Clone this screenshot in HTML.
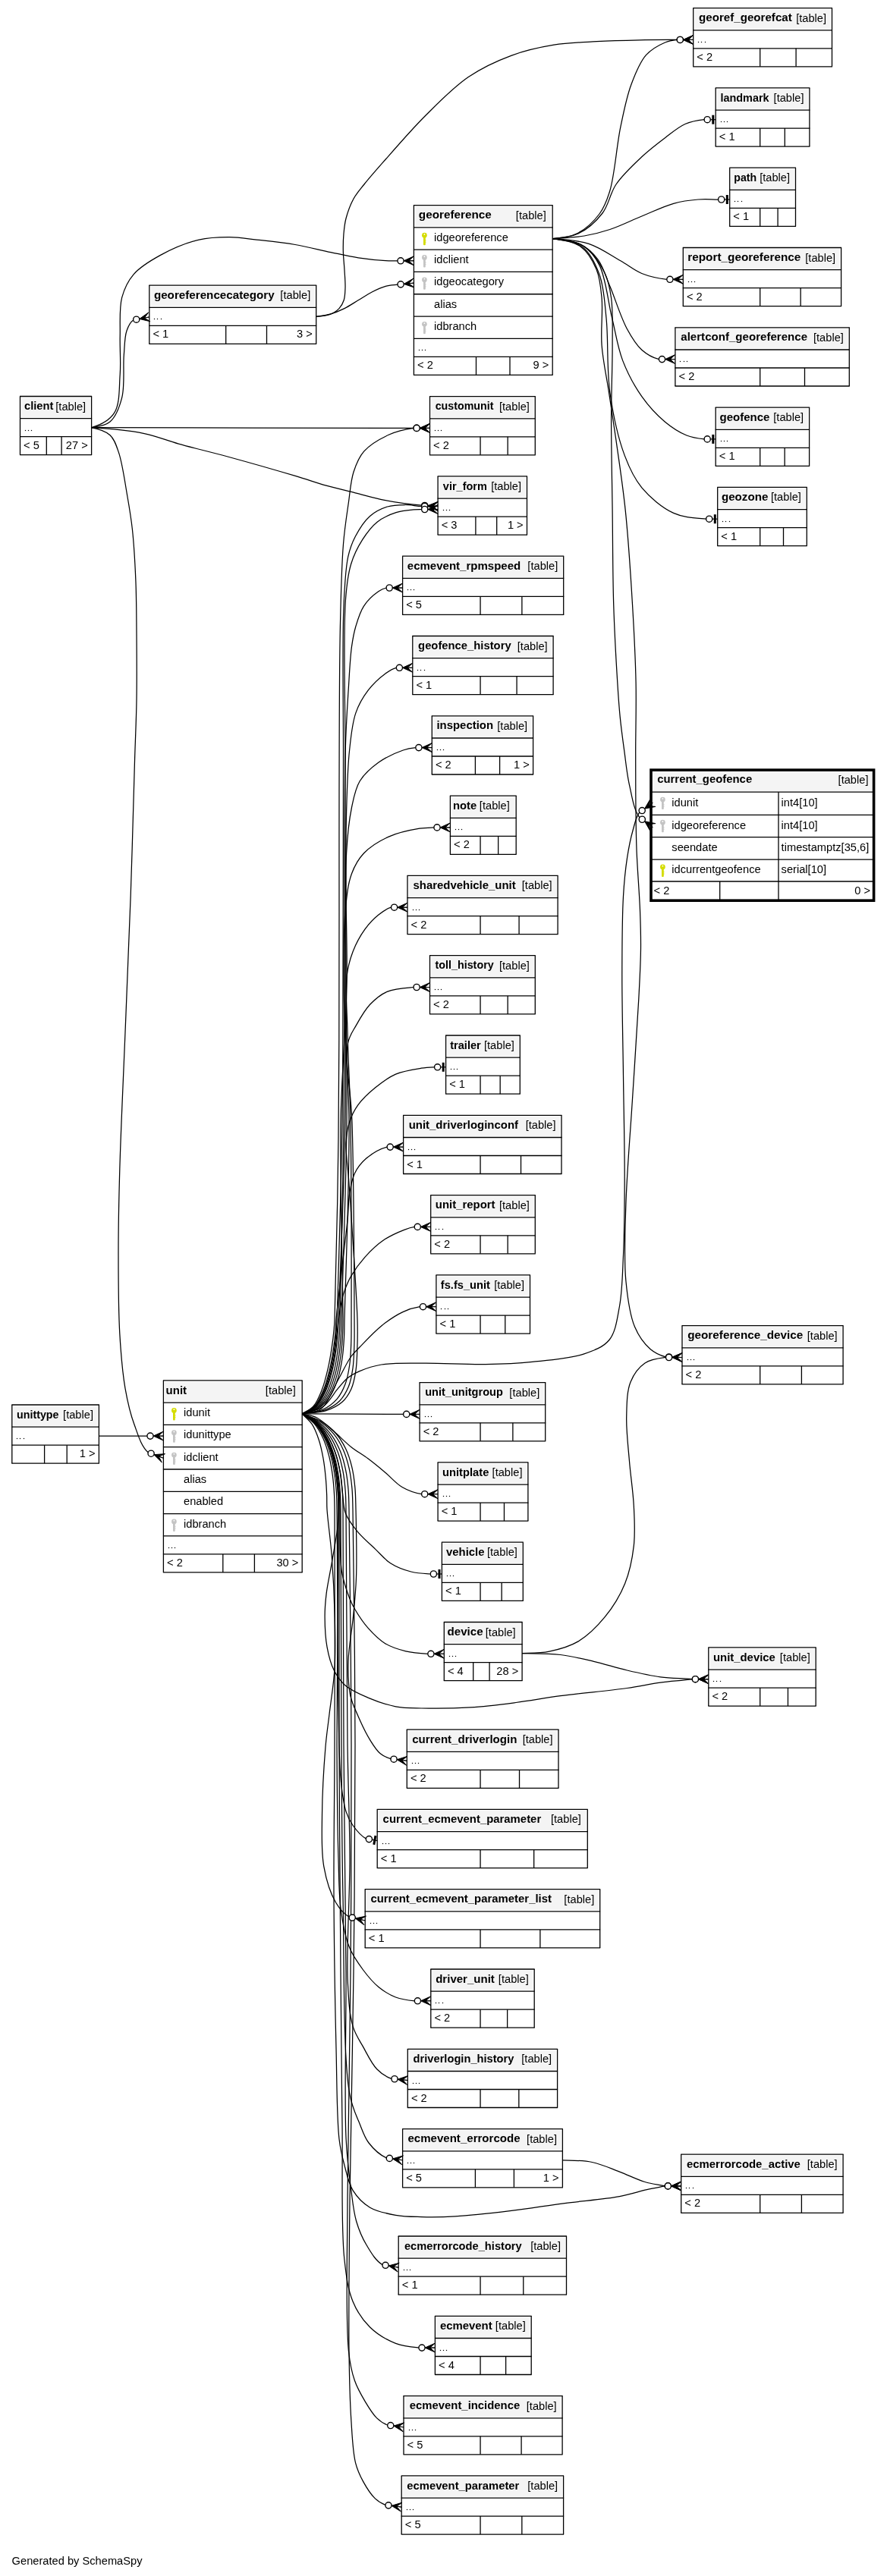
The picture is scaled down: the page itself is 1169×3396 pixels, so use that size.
<!DOCTYPE html>
<html><head><meta charset="utf-8"><style>
html,body{margin:0;padding:0;background:#fff;}
svg{display:block;will-change:transform;}
text{font-family:"Liberation Sans",sans-serif;font-size:14.67px;fill:#000;}
text.b{font-weight:bold;}
</style></head><body>
<svg width="1169" height="3396" viewBox="0 0 1169 3396">
<rect width="1169" height="3396" fill="#fff"/>
<rect x="915.50" y="12.45" width="179.20" height="25.60" fill="#f4f4f4"/>
<g stroke="#000">
<line x1="913.20" y1="10.65" x2="1097.00" y2="10.65" stroke-width="1.3"/>
<line x1="913.20" y1="39.85" x2="1097.00" y2="39.85" stroke-width="1.3"/>
<line x1="913.20" y1="63.85" x2="1097.00" y2="63.85" stroke-width="1.3"/>
<line x1="913.20" y1="87.85" x2="1097.00" y2="87.85" stroke-width="1.3"/>
<line x1="913.70" y1="10.65" x2="913.70" y2="87.85" stroke-width="1.3"/>
<line x1="1096.50" y1="10.65" x2="1096.50" y2="87.85" stroke-width="1.3"/>
<line x1="1001.70" y1="63.85" x2="1001.70" y2="87.85" stroke-width="1.3"/>
<line x1="1049.10" y1="63.85" x2="1049.10" y2="87.85" stroke-width="1.3"/>
</g>
<text x="921.10" y="28.25" class="b" textLength="122.66" lengthAdjust="spacingAndGlyphs">georef_georefcat</text>
<text x="1089.10" y="28.65" text-anchor="end">[table]</text>
<rect x="919.90" y="54.90" width="1.2" height="1.2" fill="#000"/>
<rect x="923.90" y="54.90" width="1.2" height="1.2" fill="#000"/>
<rect x="928.90" y="54.90" width="1.2" height="1.2" fill="#000"/>
<text x="918.30" y="79.85">&lt; 2</text>
<rect x="945.00" y="117.70" width="120.10" height="25.60" fill="#f4f4f4"/>
<g stroke="#000">
<line x1="942.70" y1="115.90" x2="1067.40" y2="115.90" stroke-width="1.3"/>
<line x1="942.70" y1="145.10" x2="1067.40" y2="145.10" stroke-width="1.3"/>
<line x1="942.70" y1="169.10" x2="1067.40" y2="169.10" stroke-width="1.3"/>
<line x1="942.70" y1="193.10" x2="1067.40" y2="193.10" stroke-width="1.3"/>
<line x1="943.20" y1="115.90" x2="943.20" y2="193.10" stroke-width="1.3"/>
<line x1="1066.90" y1="115.90" x2="1066.90" y2="193.10" stroke-width="1.3"/>
<line x1="1001.70" y1="169.10" x2="1001.70" y2="193.10" stroke-width="1.3"/>
<line x1="1034.30" y1="169.10" x2="1034.30" y2="193.10" stroke-width="1.3"/>
</g>
<text x="949.40" y="133.50" class="b" textLength="64.22" lengthAdjust="spacingAndGlyphs">landmark</text>
<text x="1059.50" y="133.90" text-anchor="end">[table]</text>
<rect x="949.90" y="159.90" width="1.2" height="1.2" fill="#000"/>
<rect x="953.90" y="159.90" width="1.2" height="1.2" fill="#000"/>
<rect x="957.90" y="159.90" width="1.2" height="1.2" fill="#000"/>
<text x="947.80" y="185.10">&lt; 1</text>
<rect x="963.50" y="223.00" width="83.20" height="25.60" fill="#f4f4f4"/>
<g stroke="#000">
<line x1="961.20" y1="221.20" x2="1049.00" y2="221.20" stroke-width="1.3"/>
<line x1="961.20" y1="250.40" x2="1049.00" y2="250.40" stroke-width="1.3"/>
<line x1="961.20" y1="274.40" x2="1049.00" y2="274.40" stroke-width="1.3"/>
<line x1="961.20" y1="298.40" x2="1049.00" y2="298.40" stroke-width="1.3"/>
<line x1="961.70" y1="221.20" x2="961.70" y2="298.40" stroke-width="1.3"/>
<line x1="1048.50" y1="221.20" x2="1048.50" y2="298.40" stroke-width="1.3"/>
<line x1="1001.70" y1="274.40" x2="1001.70" y2="298.40" stroke-width="1.3"/>
<line x1="1025.10" y1="274.40" x2="1025.10" y2="298.40" stroke-width="1.3"/>
</g>
<text x="967.30" y="238.80" class="b" textLength="29.87" lengthAdjust="spacingAndGlyphs">path</text>
<text x="1041.10" y="239.20" text-anchor="end">[table]</text>
<rect x="967.90" y="264.90" width="1.2" height="1.2" fill="#000"/>
<rect x="971.90" y="264.90" width="1.2" height="1.2" fill="#000"/>
<rect x="976.90" y="264.90" width="1.2" height="1.2" fill="#000"/>
<text x="966.30" y="290.40">&lt; 1</text>
<rect x="902.10" y="328.30" width="204.70" height="25.60" fill="#f4f4f4"/>
<g stroke="#000">
<line x1="899.80" y1="326.50" x2="1109.10" y2="326.50" stroke-width="1.3"/>
<line x1="899.80" y1="355.70" x2="1109.10" y2="355.70" stroke-width="1.3"/>
<line x1="899.80" y1="379.70" x2="1109.10" y2="379.70" stroke-width="1.3"/>
<line x1="899.80" y1="403.70" x2="1109.10" y2="403.70" stroke-width="1.3"/>
<line x1="900.30" y1="326.50" x2="900.30" y2="403.70" stroke-width="1.3"/>
<line x1="1108.60" y1="326.50" x2="1108.60" y2="403.70" stroke-width="1.3"/>
<line x1="1001.70" y1="379.70" x2="1001.70" y2="403.70" stroke-width="1.3"/>
<line x1="1055.15" y1="379.70" x2="1055.15" y2="403.70" stroke-width="1.3"/>
</g>
<text x="906.20" y="344.10" class="b" textLength="149.18" lengthAdjust="spacingAndGlyphs">report_georeference</text>
<text x="1101.20" y="344.50" text-anchor="end">[table]</text>
<rect x="906.90" y="370.90" width="1.2" height="1.2" fill="#000"/>
<rect x="910.90" y="370.90" width="1.2" height="1.2" fill="#000"/>
<rect x="914.90" y="370.90" width="1.2" height="1.2" fill="#000"/>
<text x="904.90" y="395.70">&lt; 2</text>
<rect x="891.70" y="433.60" width="225.80" height="25.60" fill="#f4f4f4"/>
<g stroke="#000">
<line x1="889.40" y1="431.80" x2="1119.80" y2="431.80" stroke-width="1.3"/>
<line x1="889.40" y1="461.00" x2="1119.80" y2="461.00" stroke-width="1.3"/>
<line x1="889.40" y1="485.00" x2="1119.80" y2="485.00" stroke-width="1.3"/>
<line x1="889.40" y1="509.00" x2="1119.80" y2="509.00" stroke-width="1.3"/>
<line x1="889.90" y1="431.80" x2="889.90" y2="509.00" stroke-width="1.3"/>
<line x1="1119.30" y1="431.80" x2="1119.30" y2="509.00" stroke-width="1.3"/>
<line x1="1001.70" y1="485.00" x2="1001.70" y2="509.00" stroke-width="1.3"/>
<line x1="1060.50" y1="485.00" x2="1060.50" y2="509.00" stroke-width="1.3"/>
</g>
<text x="897.30" y="449.40" class="b" textLength="166.76" lengthAdjust="spacingAndGlyphs">alertconf_georeference</text>
<text x="1111.90" y="449.80" text-anchor="end">[table]</text>
<rect x="895.90" y="475.90" width="1.2" height="1.2" fill="#000"/>
<rect x="900.90" y="475.90" width="1.2" height="1.2" fill="#000"/>
<rect x="904.90" y="475.90" width="1.2" height="1.2" fill="#000"/>
<text x="894.50" y="501.00">&lt; 2</text>
<rect x="945.00" y="538.90" width="119.80" height="25.60" fill="#f4f4f4"/>
<g stroke="#000">
<line x1="942.70" y1="537.10" x2="1067.10" y2="537.10" stroke-width="1.3"/>
<line x1="942.70" y1="566.30" x2="1067.10" y2="566.30" stroke-width="1.3"/>
<line x1="942.70" y1="590.30" x2="1067.10" y2="590.30" stroke-width="1.3"/>
<line x1="942.70" y1="614.30" x2="1067.10" y2="614.30" stroke-width="1.3"/>
<line x1="943.20" y1="537.10" x2="943.20" y2="614.30" stroke-width="1.3"/>
<line x1="1066.60" y1="537.10" x2="1066.60" y2="614.30" stroke-width="1.3"/>
<line x1="1001.70" y1="590.30" x2="1001.70" y2="614.30" stroke-width="1.3"/>
<line x1="1034.15" y1="590.30" x2="1034.15" y2="614.30" stroke-width="1.3"/>
</g>
<text x="948.50" y="554.70" class="b" textLength="65.98" lengthAdjust="spacingAndGlyphs">geofence</text>
<text x="1059.20" y="555.10" text-anchor="end">[table]</text>
<rect x="949.90" y="580.90" width="1.2" height="1.2" fill="#000"/>
<rect x="953.90" y="580.90" width="1.2" height="1.2" fill="#000"/>
<rect x="957.90" y="580.90" width="1.2" height="1.2" fill="#000"/>
<text x="947.80" y="606.30">&lt; 1</text>
<rect x="947.50" y="644.20" width="114.00" height="25.60" fill="#f4f4f4"/>
<g stroke="#000">
<line x1="945.20" y1="642.40" x2="1063.80" y2="642.40" stroke-width="1.3"/>
<line x1="945.20" y1="671.60" x2="1063.80" y2="671.60" stroke-width="1.3"/>
<line x1="945.20" y1="695.60" x2="1063.80" y2="695.60" stroke-width="1.3"/>
<line x1="945.20" y1="719.60" x2="1063.80" y2="719.60" stroke-width="1.3"/>
<line x1="945.70" y1="642.40" x2="945.70" y2="719.60" stroke-width="1.3"/>
<line x1="1063.30" y1="642.40" x2="1063.30" y2="719.60" stroke-width="1.3"/>
<line x1="1001.70" y1="695.60" x2="1001.70" y2="719.60" stroke-width="1.3"/>
<line x1="1032.50" y1="695.60" x2="1032.50" y2="719.60" stroke-width="1.3"/>
</g>
<text x="950.90" y="660.00" class="b" textLength="61.43" lengthAdjust="spacingAndGlyphs">geozone</text>
<text x="1055.90" y="660.40" text-anchor="end">[table]</text>
<rect x="951.90" y="686.90" width="1.2" height="1.2" fill="#000"/>
<rect x="955.90" y="686.90" width="1.2" height="1.2" fill="#000"/>
<rect x="960.90" y="686.90" width="1.2" height="1.2" fill="#000"/>
<text x="950.30" y="711.60">&lt; 1</text>
<rect x="900.80" y="1749.50" width="208.50" height="25.60" fill="#f4f4f4"/>
<g stroke="#000">
<line x1="898.50" y1="1747.70" x2="1111.60" y2="1747.70" stroke-width="1.3"/>
<line x1="898.50" y1="1776.90" x2="1111.60" y2="1776.90" stroke-width="1.3"/>
<line x1="898.50" y1="1800.90" x2="1111.60" y2="1800.90" stroke-width="1.3"/>
<line x1="898.50" y1="1824.90" x2="1111.60" y2="1824.90" stroke-width="1.3"/>
<line x1="899.00" y1="1747.70" x2="899.00" y2="1824.90" stroke-width="1.3"/>
<line x1="1111.10" y1="1747.70" x2="1111.10" y2="1824.90" stroke-width="1.3"/>
<line x1="1001.70" y1="1800.90" x2="1001.70" y2="1824.90" stroke-width="1.3"/>
<line x1="1056.40" y1="1800.90" x2="1056.40" y2="1824.90" stroke-width="1.3"/>
</g>
<text x="906.20" y="1765.30" class="b" textLength="152.16" lengthAdjust="spacingAndGlyphs">georeference_device</text>
<text x="1103.70" y="1765.70" text-anchor="end">[table]</text>
<rect x="905.90" y="1791.90" width="1.2" height="1.2" fill="#000"/>
<rect x="909.90" y="1791.90" width="1.2" height="1.2" fill="#000"/>
<rect x="913.90" y="1791.90" width="1.2" height="1.2" fill="#000"/>
<text x="903.60" y="1816.90">&lt; 2</text>
<rect x="935.60" y="2173.70" width="137.80" height="25.60" fill="#f4f4f4"/>
<g stroke="#000">
<line x1="933.30" y1="2171.90" x2="1075.70" y2="2171.90" stroke-width="1.3"/>
<line x1="933.30" y1="2201.10" x2="1075.70" y2="2201.10" stroke-width="1.3"/>
<line x1="933.30" y1="2225.10" x2="1075.70" y2="2225.10" stroke-width="1.3"/>
<line x1="933.30" y1="2249.10" x2="1075.70" y2="2249.10" stroke-width="1.3"/>
<line x1="933.80" y1="2171.90" x2="933.80" y2="2249.10" stroke-width="1.3"/>
<line x1="1075.20" y1="2171.90" x2="1075.20" y2="2249.10" stroke-width="1.3"/>
<line x1="1001.70" y1="2225.10" x2="1001.70" y2="2249.10" stroke-width="1.3"/>
<line x1="1038.45" y1="2225.10" x2="1038.45" y2="2249.10" stroke-width="1.3"/>
</g>
<text x="940.00" y="2189.50" class="b" textLength="81.85" lengthAdjust="spacingAndGlyphs">unit_device</text>
<text x="1067.80" y="2189.90" text-anchor="end">[table]</text>
<rect x="939.90" y="2215.90" width="1.2" height="1.2" fill="#000"/>
<rect x="943.90" y="2215.90" width="1.2" height="1.2" fill="#000"/>
<rect x="948.90" y="2215.90" width="1.2" height="1.2" fill="#000"/>
<text x="938.40" y="2241.10">&lt; 2</text>
<rect x="899.50" y="2841.90" width="209.80" height="25.60" fill="#f4f4f4"/>
<g stroke="#000">
<line x1="897.20" y1="2840.10" x2="1111.60" y2="2840.10" stroke-width="1.3"/>
<line x1="897.20" y1="2869.30" x2="1111.60" y2="2869.30" stroke-width="1.3"/>
<line x1="897.20" y1="2893.30" x2="1111.60" y2="2893.30" stroke-width="1.3"/>
<line x1="897.20" y1="2917.30" x2="1111.60" y2="2917.30" stroke-width="1.3"/>
<line x1="897.70" y1="2840.10" x2="897.70" y2="2917.30" stroke-width="1.3"/>
<line x1="1111.10" y1="2840.10" x2="1111.10" y2="2917.30" stroke-width="1.3"/>
<line x1="1001.70" y1="2893.30" x2="1001.70" y2="2917.30" stroke-width="1.3"/>
<line x1="1056.40" y1="2893.30" x2="1056.40" y2="2917.30" stroke-width="1.3"/>
</g>
<text x="905.00" y="2857.70" class="b" textLength="149.90" lengthAdjust="spacingAndGlyphs">ecmerrorcode_active</text>
<text x="1103.70" y="2858.10" text-anchor="end">[table]</text>
<rect x="903.90" y="2883.90" width="1.2" height="1.2" fill="#000"/>
<rect x="907.90" y="2883.90" width="1.2" height="1.2" fill="#000"/>
<rect x="912.90" y="2883.90" width="1.2" height="1.2" fill="#000"/>
<text x="902.30" y="2909.30">&lt; 2</text>
<rect x="547.20" y="272.45" width="179.20" height="25.60" fill="#f4f4f4"/>
<g stroke="#000">
<line x1="544.90" y1="270.65" x2="728.70" y2="270.65" stroke-width="1.3"/>
<line x1="544.90" y1="299.85" x2="728.70" y2="299.85" stroke-width="1.3"/>
<line x1="544.90" y1="329.15" x2="728.70" y2="329.15" stroke-width="1.3"/>
<line x1="544.90" y1="358.45" x2="728.70" y2="358.45" stroke-width="1.3"/>
<line x1="544.90" y1="387.75" x2="728.70" y2="387.75" stroke-width="1.3"/>
<line x1="544.90" y1="417.05" x2="728.70" y2="417.05" stroke-width="1.3"/>
<line x1="544.90" y1="446.35" x2="728.70" y2="446.35" stroke-width="1.3"/>
<line x1="544.90" y1="470.35" x2="728.70" y2="470.35" stroke-width="1.3"/>
<line x1="544.90" y1="494.35" x2="728.70" y2="494.35" stroke-width="1.3"/>
<line x1="545.40" y1="270.65" x2="545.40" y2="494.35" stroke-width="1.3"/>
<line x1="728.20" y1="270.65" x2="728.20" y2="494.35" stroke-width="1.3"/>
<line x1="627.50" y1="470.35" x2="627.50" y2="494.35" stroke-width="1.3"/>
<line x1="672.00" y1="470.35" x2="672.00" y2="494.35" stroke-width="1.3"/>
</g>
<text x="551.80" y="288.25" class="b" textLength="95.97" lengthAdjust="spacingAndGlyphs">georeference</text>
<text x="719.80" y="288.65" text-anchor="end">[table]</text>
<g fill="#d4dc00"><circle cx="559.40" cy="310.15" r="3.35"/><rect x="558.00" y="312.15" width="2.8" height="11" rx="1"/><rect x="560.40" y="316.15" width="1" height="1.2"/><rect x="560.40" y="318.65" width="1" height="1.2"/></g><circle cx="559.40" cy="308.95" r="0.9" fill="#fff"/>
<text x="572.00" y="317.85">idgeoreference</text>
<g fill="#c4c4c4"><circle cx="559.40" cy="339.45" r="3.35"/><rect x="558.00" y="341.45" width="2.8" height="11" rx="1"/><rect x="560.40" y="345.45" width="1" height="1.2"/><rect x="560.40" y="347.95" width="1" height="1.2"/></g><circle cx="559.40" cy="338.25" r="0.9" fill="#fff"/>
<text x="572.00" y="347.15">idclient</text>
<g fill="#c4c4c4"><circle cx="559.40" cy="368.75" r="3.35"/><rect x="558.00" y="370.75" width="2.8" height="11" rx="1"/><rect x="560.40" y="374.75" width="1" height="1.2"/><rect x="560.40" y="377.25" width="1" height="1.2"/></g><circle cx="559.40" cy="367.55" r="0.9" fill="#fff"/>
<text x="572.00" y="376.45">idgeocategory</text>
<text x="572.00" y="405.75">alias</text>
<g fill="#c4c4c4"><circle cx="559.40" cy="427.35" r="3.35"/><rect x="558.00" y="429.35" width="2.8" height="11" rx="1"/><rect x="560.40" y="433.35" width="1" height="1.2"/><rect x="560.40" y="435.85" width="1" height="1.2"/></g><circle cx="559.40" cy="426.15" r="0.9" fill="#fff"/>
<text x="572.00" y="435.05">idbranch</text>
<rect x="551.90" y="460.90" width="1.2" height="1.2" fill="#000"/>
<rect x="555.90" y="460.90" width="1.2" height="1.2" fill="#000"/>
<rect x="559.90" y="460.90" width="1.2" height="1.2" fill="#000"/>
<text x="550.00" y="486.35">&lt; 2</text>
<text x="723.40" y="486.35" text-anchor="end">9 &gt;</text>
<rect x="568.30" y="524.40" width="135.20" height="25.60" fill="#f4f4f4"/>
<g stroke="#000">
<line x1="566.00" y1="522.60" x2="705.80" y2="522.60" stroke-width="1.3"/>
<line x1="566.00" y1="551.80" x2="705.80" y2="551.80" stroke-width="1.3"/>
<line x1="566.00" y1="575.80" x2="705.80" y2="575.80" stroke-width="1.3"/>
<line x1="566.00" y1="599.80" x2="705.80" y2="599.80" stroke-width="1.3"/>
<line x1="566.50" y1="522.60" x2="566.50" y2="599.80" stroke-width="1.3"/>
<line x1="705.30" y1="522.60" x2="705.30" y2="599.80" stroke-width="1.3"/>
<line x1="633.05" y1="575.80" x2="633.05" y2="599.80" stroke-width="1.3"/>
<line x1="669.17" y1="575.80" x2="669.17" y2="599.80" stroke-width="1.3"/>
</g>
<text x="573.70" y="540.20" class="b" textLength="76.79" lengthAdjust="spacingAndGlyphs">customunit</text>
<text x="697.90" y="540.60" text-anchor="end">[table]</text>
<rect x="572.90" y="566.90" width="1.2" height="1.2" fill="#000"/>
<rect x="576.90" y="566.90" width="1.2" height="1.2" fill="#000"/>
<rect x="580.90" y="566.90" width="1.2" height="1.2" fill="#000"/>
<text x="571.10" y="591.80">&lt; 2</text>
<rect x="578.90" y="629.70" width="113.80" height="25.60" fill="#f4f4f4"/>
<g stroke="#000">
<line x1="576.60" y1="627.90" x2="695.00" y2="627.90" stroke-width="1.3"/>
<line x1="576.60" y1="657.10" x2="695.00" y2="657.10" stroke-width="1.3"/>
<line x1="576.60" y1="681.10" x2="695.00" y2="681.10" stroke-width="1.3"/>
<line x1="576.60" y1="705.10" x2="695.00" y2="705.10" stroke-width="1.3"/>
<line x1="577.10" y1="627.90" x2="577.10" y2="705.10" stroke-width="1.3"/>
<line x1="694.50" y1="627.90" x2="694.50" y2="705.10" stroke-width="1.3"/>
<line x1="626.90" y1="681.10" x2="626.90" y2="705.10" stroke-width="1.3"/>
<line x1="654.70" y1="681.10" x2="654.70" y2="705.10" stroke-width="1.3"/>
</g>
<text x="583.80" y="645.50" class="b" textLength="58.16" lengthAdjust="spacingAndGlyphs">vir_form</text>
<text x="687.10" y="645.90" text-anchor="end">[table]</text>
<rect x="583.90" y="671.90" width="1.2" height="1.2" fill="#000"/>
<rect x="587.90" y="671.90" width="1.2" height="1.2" fill="#000"/>
<rect x="591.90" y="671.90" width="1.2" height="1.2" fill="#000"/>
<text x="581.70" y="697.10">&lt; 3</text>
<text x="689.70" y="697.10" text-anchor="end">1 &gt;</text>
<rect x="532.40" y="735.00" width="208.50" height="25.60" fill="#f4f4f4"/>
<g stroke="#000">
<line x1="530.10" y1="733.20" x2="743.20" y2="733.20" stroke-width="1.3"/>
<line x1="530.10" y1="762.40" x2="743.20" y2="762.40" stroke-width="1.3"/>
<line x1="530.10" y1="786.40" x2="743.20" y2="786.40" stroke-width="1.3"/>
<line x1="530.10" y1="810.40" x2="743.20" y2="810.40" stroke-width="1.3"/>
<line x1="530.60" y1="733.20" x2="530.60" y2="810.40" stroke-width="1.3"/>
<line x1="742.70" y1="733.20" x2="742.70" y2="810.40" stroke-width="1.3"/>
<line x1="633.05" y1="786.40" x2="633.05" y2="810.40" stroke-width="1.3"/>
<line x1="687.88" y1="786.40" x2="687.88" y2="810.40" stroke-width="1.3"/>
</g>
<text x="536.80" y="750.80" class="b" textLength="149.47" lengthAdjust="spacingAndGlyphs">ecmevent_rpmspeed</text>
<text x="735.30" y="751.20" text-anchor="end">[table]</text>
<rect x="536.90" y="776.90" width="1.2" height="1.2" fill="#000"/>
<rect x="540.90" y="776.90" width="1.2" height="1.2" fill="#000"/>
<rect x="544.90" y="776.90" width="1.2" height="1.2" fill="#000"/>
<text x="535.20" y="802.40">&lt; 5</text>
<rect x="545.60" y="840.30" width="181.70" height="25.60" fill="#f4f4f4"/>
<g stroke="#000">
<line x1="543.30" y1="838.50" x2="729.60" y2="838.50" stroke-width="1.3"/>
<line x1="543.30" y1="867.70" x2="729.60" y2="867.70" stroke-width="1.3"/>
<line x1="543.30" y1="891.70" x2="729.60" y2="891.70" stroke-width="1.3"/>
<line x1="543.30" y1="915.70" x2="729.60" y2="915.70" stroke-width="1.3"/>
<line x1="543.80" y1="838.50" x2="543.80" y2="915.70" stroke-width="1.3"/>
<line x1="729.10" y1="838.50" x2="729.10" y2="915.70" stroke-width="1.3"/>
<line x1="633.05" y1="891.70" x2="633.05" y2="915.70" stroke-width="1.3"/>
<line x1="681.08" y1="891.70" x2="681.08" y2="915.70" stroke-width="1.3"/>
</g>
<text x="551.10" y="856.10" class="b" textLength="122.55" lengthAdjust="spacingAndGlyphs">geofence_history</text>
<text x="721.70" y="856.50" text-anchor="end">[table]</text>
<rect x="549.90" y="882.90" width="1.2" height="1.2" fill="#000"/>
<rect x="553.90" y="882.90" width="1.2" height="1.2" fill="#000"/>
<rect x="558.90" y="882.90" width="1.2" height="1.2" fill="#000"/>
<text x="548.40" y="907.70">&lt; 1</text>
<rect x="571.10" y="945.60" width="129.70" height="25.60" fill="#f4f4f4"/>
<g stroke="#000">
<line x1="568.80" y1="943.80" x2="703.10" y2="943.80" stroke-width="1.3"/>
<line x1="568.80" y1="973.00" x2="703.10" y2="973.00" stroke-width="1.3"/>
<line x1="568.80" y1="997.00" x2="703.10" y2="997.00" stroke-width="1.3"/>
<line x1="568.80" y1="1021.00" x2="703.10" y2="1021.00" stroke-width="1.3"/>
<line x1="569.30" y1="943.80" x2="569.30" y2="1021.00" stroke-width="1.3"/>
<line x1="702.60" y1="943.80" x2="702.60" y2="1021.00" stroke-width="1.3"/>
<line x1="626.40" y1="997.00" x2="626.40" y2="1021.00" stroke-width="1.3"/>
<line x1="658.60" y1="997.00" x2="658.60" y2="1021.00" stroke-width="1.3"/>
</g>
<text x="575.40" y="961.40" class="b" textLength="74.72" lengthAdjust="spacingAndGlyphs">inspection</text>
<text x="695.20" y="961.80" text-anchor="end">[table]</text>
<rect x="575.90" y="987.90" width="1.2" height="1.2" fill="#000"/>
<rect x="579.90" y="987.90" width="1.2" height="1.2" fill="#000"/>
<rect x="583.90" y="987.90" width="1.2" height="1.2" fill="#000"/>
<text x="573.90" y="1013.00">&lt; 2</text>
<text x="697.80" y="1013.00" text-anchor="end">1 &gt;</text>
<rect x="595.20" y="1050.90" width="83.20" height="25.60" fill="#f4f4f4"/>
<g stroke="#000">
<line x1="592.90" y1="1049.10" x2="680.70" y2="1049.10" stroke-width="1.3"/>
<line x1="592.90" y1="1078.30" x2="680.70" y2="1078.30" stroke-width="1.3"/>
<line x1="592.90" y1="1102.30" x2="680.70" y2="1102.30" stroke-width="1.3"/>
<line x1="592.90" y1="1126.30" x2="680.70" y2="1126.30" stroke-width="1.3"/>
<line x1="593.40" y1="1049.10" x2="593.40" y2="1126.30" stroke-width="1.3"/>
<line x1="680.20" y1="1049.10" x2="680.20" y2="1126.30" stroke-width="1.3"/>
<line x1="633.05" y1="1102.30" x2="633.05" y2="1126.30" stroke-width="1.3"/>
<line x1="656.62" y1="1102.30" x2="656.62" y2="1126.30" stroke-width="1.3"/>
</g>
<text x="596.90" y="1066.70" class="b" textLength="31.27" lengthAdjust="spacingAndGlyphs">note</text>
<text x="671.80" y="1067.10" text-anchor="end">[table]</text>
<rect x="599.90" y="1092.90" width="1.2" height="1.2" fill="#000"/>
<rect x="603.90" y="1092.90" width="1.2" height="1.2" fill="#000"/>
<rect x="607.90" y="1092.90" width="1.2" height="1.2" fill="#000"/>
<text x="598.00" y="1118.30">&lt; 2</text>
<rect x="538.80" y="1156.20" width="194.50" height="25.60" fill="#f4f4f4"/>
<g stroke="#000">
<line x1="536.50" y1="1154.40" x2="735.60" y2="1154.40" stroke-width="1.3"/>
<line x1="536.50" y1="1183.60" x2="735.60" y2="1183.60" stroke-width="1.3"/>
<line x1="536.50" y1="1207.60" x2="735.60" y2="1207.60" stroke-width="1.3"/>
<line x1="536.50" y1="1231.60" x2="735.60" y2="1231.60" stroke-width="1.3"/>
<line x1="537.00" y1="1154.40" x2="537.00" y2="1231.60" stroke-width="1.3"/>
<line x1="735.10" y1="1154.40" x2="735.10" y2="1231.60" stroke-width="1.3"/>
<line x1="633.05" y1="1207.60" x2="633.05" y2="1231.60" stroke-width="1.3"/>
<line x1="684.08" y1="1207.60" x2="684.08" y2="1231.60" stroke-width="1.3"/>
</g>
<text x="544.50" y="1172.00" class="b" textLength="135.19" lengthAdjust="spacingAndGlyphs">sharedvehicle_unit</text>
<text x="727.70" y="1172.40" text-anchor="end">[table]</text>
<rect x="543.90" y="1198.90" width="1.2" height="1.2" fill="#000"/>
<rect x="547.90" y="1198.90" width="1.2" height="1.2" fill="#000"/>
<rect x="551.90" y="1198.90" width="1.2" height="1.2" fill="#000"/>
<text x="541.60" y="1223.60">&lt; 2</text>
<rect x="568.30" y="1261.50" width="135.20" height="25.60" fill="#f4f4f4"/>
<g stroke="#000">
<line x1="566.00" y1="1259.70" x2="705.80" y2="1259.70" stroke-width="1.3"/>
<line x1="566.00" y1="1288.90" x2="705.80" y2="1288.90" stroke-width="1.3"/>
<line x1="566.00" y1="1312.90" x2="705.80" y2="1312.90" stroke-width="1.3"/>
<line x1="566.00" y1="1336.90" x2="705.80" y2="1336.90" stroke-width="1.3"/>
<line x1="566.50" y1="1259.70" x2="566.50" y2="1336.90" stroke-width="1.3"/>
<line x1="705.30" y1="1259.70" x2="705.30" y2="1336.90" stroke-width="1.3"/>
<line x1="633.05" y1="1312.90" x2="633.05" y2="1336.90" stroke-width="1.3"/>
<line x1="669.17" y1="1312.90" x2="669.17" y2="1336.90" stroke-width="1.3"/>
</g>
<text x="573.40" y="1277.30" class="b" textLength="77.32" lengthAdjust="spacingAndGlyphs">toll_history</text>
<text x="697.90" y="1277.70" text-anchor="end">[table]</text>
<rect x="572.90" y="1303.90" width="1.2" height="1.2" fill="#000"/>
<rect x="576.90" y="1303.90" width="1.2" height="1.2" fill="#000"/>
<rect x="580.90" y="1303.90" width="1.2" height="1.2" fill="#000"/>
<text x="571.10" y="1328.90">&lt; 2</text>
<rect x="589.40" y="1366.80" width="94.10" height="25.60" fill="#f4f4f4"/>
<g stroke="#000">
<line x1="587.10" y1="1365.00" x2="685.80" y2="1365.00" stroke-width="1.3"/>
<line x1="587.10" y1="1394.20" x2="685.80" y2="1394.20" stroke-width="1.3"/>
<line x1="587.10" y1="1418.20" x2="685.80" y2="1418.20" stroke-width="1.3"/>
<line x1="587.10" y1="1442.20" x2="685.80" y2="1442.20" stroke-width="1.3"/>
<line x1="587.60" y1="1365.00" x2="587.60" y2="1442.20" stroke-width="1.3"/>
<line x1="685.30" y1="1365.00" x2="685.30" y2="1442.20" stroke-width="1.3"/>
<line x1="633.05" y1="1418.20" x2="633.05" y2="1442.20" stroke-width="1.3"/>
<line x1="659.17" y1="1418.20" x2="659.17" y2="1442.20" stroke-width="1.3"/>
</g>
<text x="593.20" y="1382.60" class="b" textLength="40.60" lengthAdjust="spacingAndGlyphs">trailer</text>
<text x="677.90" y="1383.00" text-anchor="end">[table]</text>
<rect x="593.90" y="1408.90" width="1.2" height="1.2" fill="#000"/>
<rect x="597.90" y="1408.90" width="1.2" height="1.2" fill="#000"/>
<rect x="601.90" y="1408.90" width="1.2" height="1.2" fill="#000"/>
<text x="592.20" y="1434.20">&lt; 1</text>
<rect x="533.40" y="1472.10" width="204.80" height="25.60" fill="#f4f4f4"/>
<g stroke="#000">
<line x1="531.10" y1="1470.30" x2="740.50" y2="1470.30" stroke-width="1.3"/>
<line x1="531.10" y1="1499.50" x2="740.50" y2="1499.50" stroke-width="1.3"/>
<line x1="531.10" y1="1523.50" x2="740.50" y2="1523.50" stroke-width="1.3"/>
<line x1="531.10" y1="1547.50" x2="740.50" y2="1547.50" stroke-width="1.3"/>
<line x1="531.60" y1="1470.30" x2="531.60" y2="1547.50" stroke-width="1.3"/>
<line x1="740.00" y1="1470.30" x2="740.00" y2="1547.50" stroke-width="1.3"/>
<line x1="633.05" y1="1523.50" x2="633.05" y2="1547.50" stroke-width="1.3"/>
<line x1="686.52" y1="1523.50" x2="686.52" y2="1547.50" stroke-width="1.3"/>
</g>
<text x="538.70" y="1487.90" class="b" textLength="144.32" lengthAdjust="spacingAndGlyphs">unit_driverloginconf</text>
<text x="732.60" y="1488.30" text-anchor="end">[table]</text>
<rect x="537.90" y="1514.90" width="1.2" height="1.2" fill="#000"/>
<rect x="541.90" y="1514.90" width="1.2" height="1.2" fill="#000"/>
<rect x="545.90" y="1514.90" width="1.2" height="1.2" fill="#000"/>
<text x="536.20" y="1539.50">&lt; 1</text>
<rect x="569.50" y="1577.40" width="134.00" height="25.60" fill="#f4f4f4"/>
<g stroke="#000">
<line x1="567.20" y1="1575.60" x2="705.80" y2="1575.60" stroke-width="1.3"/>
<line x1="567.20" y1="1604.80" x2="705.80" y2="1604.80" stroke-width="1.3"/>
<line x1="567.20" y1="1628.80" x2="705.80" y2="1628.80" stroke-width="1.3"/>
<line x1="567.20" y1="1652.80" x2="705.80" y2="1652.80" stroke-width="1.3"/>
<line x1="567.70" y1="1575.60" x2="567.70" y2="1652.80" stroke-width="1.3"/>
<line x1="705.30" y1="1575.60" x2="705.30" y2="1652.80" stroke-width="1.3"/>
<line x1="633.05" y1="1628.80" x2="633.05" y2="1652.80" stroke-width="1.3"/>
<line x1="669.17" y1="1628.80" x2="669.17" y2="1652.80" stroke-width="1.3"/>
</g>
<text x="573.80" y="1593.20" class="b" textLength="78.77" lengthAdjust="spacingAndGlyphs">unit_report</text>
<text x="697.90" y="1593.60" text-anchor="end">[table]</text>
<rect x="573.90" y="1619.90" width="1.2" height="1.2" fill="#000"/>
<rect x="577.90" y="1619.90" width="1.2" height="1.2" fill="#000"/>
<rect x="582.90" y="1619.90" width="1.2" height="1.2" fill="#000"/>
<text x="572.30" y="1644.80">&lt; 2</text>
<rect x="576.70" y="1682.70" width="120.00" height="25.60" fill="#f4f4f4"/>
<g stroke="#000">
<line x1="574.40" y1="1680.90" x2="699.00" y2="1680.90" stroke-width="1.3"/>
<line x1="574.40" y1="1710.10" x2="699.00" y2="1710.10" stroke-width="1.3"/>
<line x1="574.40" y1="1734.10" x2="699.00" y2="1734.10" stroke-width="1.3"/>
<line x1="574.40" y1="1758.10" x2="699.00" y2="1758.10" stroke-width="1.3"/>
<line x1="574.90" y1="1680.90" x2="574.90" y2="1758.10" stroke-width="1.3"/>
<line x1="698.50" y1="1680.90" x2="698.50" y2="1758.10" stroke-width="1.3"/>
<line x1="633.05" y1="1734.10" x2="633.05" y2="1758.10" stroke-width="1.3"/>
<line x1="665.77" y1="1734.10" x2="665.77" y2="1758.10" stroke-width="1.3"/>
</g>
<text x="580.80" y="1698.50" class="b" textLength="65.19" lengthAdjust="spacingAndGlyphs">fs.fs_unit</text>
<text x="691.10" y="1698.90" text-anchor="end">[table]</text>
<rect x="580.90" y="1724.90" width="1.2" height="1.2" fill="#000"/>
<rect x="585.90" y="1724.90" width="1.2" height="1.2" fill="#000"/>
<rect x="589.90" y="1724.90" width="1.2" height="1.2" fill="#000"/>
<text x="579.50" y="1750.10">&lt; 1</text>
<rect x="554.90" y="1824.40" width="162.00" height="25.60" fill="#f4f4f4"/>
<g stroke="#000">
<line x1="552.60" y1="1822.60" x2="719.20" y2="1822.60" stroke-width="1.3"/>
<line x1="552.60" y1="1851.80" x2="719.20" y2="1851.80" stroke-width="1.3"/>
<line x1="552.60" y1="1875.80" x2="719.20" y2="1875.80" stroke-width="1.3"/>
<line x1="552.60" y1="1899.80" x2="719.20" y2="1899.80" stroke-width="1.3"/>
<line x1="553.10" y1="1822.60" x2="553.10" y2="1899.80" stroke-width="1.3"/>
<line x1="718.70" y1="1822.60" x2="718.70" y2="1899.80" stroke-width="1.3"/>
<line x1="633.05" y1="1875.80" x2="633.05" y2="1899.80" stroke-width="1.3"/>
<line x1="675.88" y1="1875.80" x2="675.88" y2="1899.80" stroke-width="1.3"/>
</g>
<text x="560.20" y="1840.20" class="b" textLength="102.66" lengthAdjust="spacingAndGlyphs">unit_unitgroup</text>
<text x="711.30" y="1840.60" text-anchor="end">[table]</text>
<rect x="559.90" y="1866.90" width="1.2" height="1.2" fill="#000"/>
<rect x="563.90" y="1866.90" width="1.2" height="1.2" fill="#000"/>
<rect x="567.90" y="1866.90" width="1.2" height="1.2" fill="#000"/>
<text x="557.70" y="1891.80">&lt; 2</text>
<rect x="578.90" y="1929.70" width="115.20" height="25.60" fill="#f4f4f4"/>
<g stroke="#000">
<line x1="576.60" y1="1927.90" x2="696.40" y2="1927.90" stroke-width="1.3"/>
<line x1="576.60" y1="1957.10" x2="696.40" y2="1957.10" stroke-width="1.3"/>
<line x1="576.60" y1="1981.10" x2="696.40" y2="1981.10" stroke-width="1.3"/>
<line x1="576.60" y1="2005.10" x2="696.40" y2="2005.10" stroke-width="1.3"/>
<line x1="577.10" y1="1927.90" x2="577.10" y2="2005.10" stroke-width="1.3"/>
<line x1="695.90" y1="1927.90" x2="695.90" y2="2005.10" stroke-width="1.3"/>
<line x1="633.05" y1="1981.10" x2="633.05" y2="2005.10" stroke-width="1.3"/>
<line x1="664.47" y1="1981.10" x2="664.47" y2="2005.10" stroke-width="1.3"/>
</g>
<text x="583.00" y="1945.50" class="b" textLength="61.36" lengthAdjust="spacingAndGlyphs">unitplate</text>
<text x="688.50" y="1945.90" text-anchor="end">[table]</text>
<rect x="583.90" y="1971.90" width="1.2" height="1.2" fill="#000"/>
<rect x="587.90" y="1971.90" width="1.2" height="1.2" fill="#000"/>
<rect x="591.90" y="1971.90" width="1.2" height="1.2" fill="#000"/>
<text x="581.70" y="1997.10">&lt; 1</text>
<rect x="584.20" y="2035.00" width="103.30" height="25.60" fill="#f4f4f4"/>
<g stroke="#000">
<line x1="581.90" y1="2033.20" x2="689.80" y2="2033.20" stroke-width="1.3"/>
<line x1="581.90" y1="2062.40" x2="689.80" y2="2062.40" stroke-width="1.3"/>
<line x1="581.90" y1="2086.40" x2="689.80" y2="2086.40" stroke-width="1.3"/>
<line x1="581.90" y1="2110.40" x2="689.80" y2="2110.40" stroke-width="1.3"/>
<line x1="582.40" y1="2033.20" x2="582.40" y2="2110.40" stroke-width="1.3"/>
<line x1="689.30" y1="2033.20" x2="689.30" y2="2110.40" stroke-width="1.3"/>
<line x1="633.05" y1="2086.40" x2="633.05" y2="2110.40" stroke-width="1.3"/>
<line x1="661.17" y1="2086.40" x2="661.17" y2="2110.40" stroke-width="1.3"/>
</g>
<text x="588.00" y="2050.80" class="b" textLength="50.48" lengthAdjust="spacingAndGlyphs">vehicle</text>
<text x="681.90" y="2051.20" text-anchor="end">[table]</text>
<rect x="588.90" y="2076.90" width="1.2" height="1.2" fill="#000"/>
<rect x="592.90" y="2076.90" width="1.2" height="1.2" fill="#000"/>
<rect x="596.90" y="2076.90" width="1.2" height="1.2" fill="#000"/>
<text x="587.00" y="2102.40">&lt; 1</text>
<rect x="587.10" y="2140.30" width="99.20" height="25.60" fill="#f4f4f4"/>
<g stroke="#000">
<line x1="584.80" y1="2138.50" x2="688.60" y2="2138.50" stroke-width="1.3"/>
<line x1="584.80" y1="2167.70" x2="688.60" y2="2167.70" stroke-width="1.3"/>
<line x1="584.80" y1="2191.70" x2="688.60" y2="2191.70" stroke-width="1.3"/>
<line x1="584.80" y1="2215.70" x2="688.60" y2="2215.70" stroke-width="1.3"/>
<line x1="585.30" y1="2138.50" x2="585.30" y2="2215.70" stroke-width="1.3"/>
<line x1="688.10" y1="2138.50" x2="688.10" y2="2215.70" stroke-width="1.3"/>
<line x1="623.70" y1="2191.70" x2="623.70" y2="2215.70" stroke-width="1.3"/>
<line x1="645.10" y1="2191.70" x2="645.10" y2="2215.70" stroke-width="1.3"/>
</g>
<text x="589.50" y="2156.10" class="b" textLength="47.16" lengthAdjust="spacingAndGlyphs">device</text>
<text x="679.70" y="2156.50" text-anchor="end">[table]</text>
<rect x="591.90" y="2182.90" width="1.2" height="1.2" fill="#000"/>
<rect x="595.90" y="2182.90" width="1.2" height="1.2" fill="#000"/>
<rect x="599.90" y="2182.90" width="1.2" height="1.2" fill="#000"/>
<text x="589.90" y="2207.70">&lt; 4</text>
<text x="683.30" y="2207.70" text-anchor="end">28 &gt;</text>
<rect x="538.10" y="2281.90" width="196.10" height="25.60" fill="#f4f4f4"/>
<g stroke="#000">
<line x1="535.80" y1="2280.10" x2="736.50" y2="2280.10" stroke-width="1.3"/>
<line x1="535.80" y1="2309.30" x2="736.50" y2="2309.30" stroke-width="1.3"/>
<line x1="535.80" y1="2333.30" x2="736.50" y2="2333.30" stroke-width="1.3"/>
<line x1="535.80" y1="2357.30" x2="736.50" y2="2357.30" stroke-width="1.3"/>
<line x1="536.30" y1="2280.10" x2="536.30" y2="2357.30" stroke-width="1.3"/>
<line x1="736.00" y1="2280.10" x2="736.00" y2="2357.30" stroke-width="1.3"/>
<line x1="633.05" y1="2333.30" x2="633.05" y2="2357.30" stroke-width="1.3"/>
<line x1="684.52" y1="2333.30" x2="684.52" y2="2357.30" stroke-width="1.3"/>
</g>
<text x="543.20" y="2297.70" class="b" textLength="138.21" lengthAdjust="spacingAndGlyphs">current_driverlogin</text>
<text x="728.60" y="2298.10" text-anchor="end">[table]</text>
<rect x="542.90" y="2323.90" width="1.2" height="1.2" fill="#000"/>
<rect x="546.90" y="2323.90" width="1.2" height="1.2" fill="#000"/>
<rect x="550.90" y="2323.90" width="1.2" height="1.2" fill="#000"/>
<text x="540.90" y="2349.30">&lt; 2</text>
<rect x="499.00" y="2387.20" width="273.50" height="25.60" fill="#f4f4f4"/>
<g stroke="#000">
<line x1="496.70" y1="2385.40" x2="774.80" y2="2385.40" stroke-width="1.3"/>
<line x1="496.70" y1="2414.60" x2="774.80" y2="2414.60" stroke-width="1.3"/>
<line x1="496.70" y1="2438.60" x2="774.80" y2="2438.60" stroke-width="1.3"/>
<line x1="496.70" y1="2462.60" x2="774.80" y2="2462.60" stroke-width="1.3"/>
<line x1="497.20" y1="2385.40" x2="497.20" y2="2462.60" stroke-width="1.3"/>
<line x1="774.30" y1="2385.40" x2="774.30" y2="2462.60" stroke-width="1.3"/>
<line x1="633.05" y1="2438.60" x2="633.05" y2="2462.60" stroke-width="1.3"/>
<line x1="703.67" y1="2438.60" x2="703.67" y2="2462.60" stroke-width="1.3"/>
</g>
<text x="504.60" y="2403.00" class="b" textLength="208.59" lengthAdjust="spacingAndGlyphs">current_ecmevent_parameter</text>
<text x="765.90" y="2403.40" text-anchor="end">[table]</text>
<rect x="503.90" y="2429.90" width="1.2" height="1.2" fill="#000"/>
<rect x="507.90" y="2429.90" width="1.2" height="1.2" fill="#000"/>
<rect x="511.90" y="2429.90" width="1.2" height="1.2" fill="#000"/>
<text x="501.80" y="2454.60">&lt; 1</text>
<rect x="483.00" y="2492.50" width="305.90" height="25.60" fill="#f4f4f4"/>
<g stroke="#000">
<line x1="480.70" y1="2490.70" x2="791.20" y2="2490.70" stroke-width="1.3"/>
<line x1="480.70" y1="2519.90" x2="791.20" y2="2519.90" stroke-width="1.3"/>
<line x1="480.70" y1="2543.90" x2="791.20" y2="2543.90" stroke-width="1.3"/>
<line x1="480.70" y1="2567.90" x2="791.20" y2="2567.90" stroke-width="1.3"/>
<line x1="481.20" y1="2490.70" x2="481.20" y2="2567.90" stroke-width="1.3"/>
<line x1="790.70" y1="2490.70" x2="790.70" y2="2567.90" stroke-width="1.3"/>
<line x1="633.05" y1="2543.90" x2="633.05" y2="2567.90" stroke-width="1.3"/>
<line x1="711.88" y1="2543.90" x2="711.88" y2="2567.90" stroke-width="1.3"/>
</g>
<text x="488.40" y="2508.30" class="b" textLength="238.56" lengthAdjust="spacingAndGlyphs">current_ecmevent_parameter_list</text>
<text x="783.30" y="2508.70" text-anchor="end">[table]</text>
<rect x="487.90" y="2534.90" width="1.2" height="1.2" fill="#000"/>
<rect x="491.90" y="2534.90" width="1.2" height="1.2" fill="#000"/>
<rect x="495.90" y="2534.90" width="1.2" height="1.2" fill="#000"/>
<text x="485.80" y="2559.90">&lt; 1</text>
<rect x="569.60" y="2597.80" width="132.80" height="25.60" fill="#f4f4f4"/>
<g stroke="#000">
<line x1="567.30" y1="2596.00" x2="704.70" y2="2596.00" stroke-width="1.3"/>
<line x1="567.30" y1="2625.20" x2="704.70" y2="2625.20" stroke-width="1.3"/>
<line x1="567.30" y1="2649.20" x2="704.70" y2="2649.20" stroke-width="1.3"/>
<line x1="567.30" y1="2673.20" x2="704.70" y2="2673.20" stroke-width="1.3"/>
<line x1="567.80" y1="2596.00" x2="567.80" y2="2673.20" stroke-width="1.3"/>
<line x1="704.20" y1="2596.00" x2="704.20" y2="2673.20" stroke-width="1.3"/>
<line x1="633.05" y1="2649.20" x2="633.05" y2="2673.20" stroke-width="1.3"/>
<line x1="668.62" y1="2649.20" x2="668.62" y2="2673.20" stroke-width="1.3"/>
</g>
<text x="574.20" y="2613.60" class="b" textLength="77.62" lengthAdjust="spacingAndGlyphs">driver_unit</text>
<text x="696.80" y="2614.00" text-anchor="end">[table]</text>
<rect x="573.90" y="2639.90" width="1.2" height="1.2" fill="#000"/>
<rect x="577.90" y="2639.90" width="1.2" height="1.2" fill="#000"/>
<rect x="582.90" y="2639.90" width="1.2" height="1.2" fill="#000"/>
<text x="572.40" y="2665.20">&lt; 2</text>
<rect x="539.10" y="2703.10" width="193.70" height="25.60" fill="#f4f4f4"/>
<g stroke="#000">
<line x1="536.80" y1="2701.30" x2="735.10" y2="2701.30" stroke-width="1.3"/>
<line x1="536.80" y1="2730.50" x2="735.10" y2="2730.50" stroke-width="1.3"/>
<line x1="536.80" y1="2754.50" x2="735.10" y2="2754.50" stroke-width="1.3"/>
<line x1="536.80" y1="2778.50" x2="735.10" y2="2778.50" stroke-width="1.3"/>
<line x1="537.30" y1="2701.30" x2="537.30" y2="2778.50" stroke-width="1.3"/>
<line x1="734.60" y1="2701.30" x2="734.60" y2="2778.50" stroke-width="1.3"/>
<line x1="633.05" y1="2754.50" x2="633.05" y2="2778.50" stroke-width="1.3"/>
<line x1="683.83" y1="2754.50" x2="683.83" y2="2778.50" stroke-width="1.3"/>
</g>
<text x="544.60" y="2718.90" class="b" textLength="132.86" lengthAdjust="spacingAndGlyphs">driverlogin_history</text>
<text x="727.20" y="2719.30" text-anchor="end">[table]</text>
<rect x="543.90" y="2745.90" width="1.2" height="1.2" fill="#000"/>
<rect x="547.90" y="2745.90" width="1.2" height="1.2" fill="#000"/>
<rect x="551.90" y="2745.90" width="1.2" height="1.2" fill="#000"/>
<text x="541.90" y="2770.50">&lt; 2</text>
<rect x="532.40" y="2808.40" width="207.20" height="25.60" fill="#f4f4f4"/>
<g stroke="#000">
<line x1="530.10" y1="2806.60" x2="741.90" y2="2806.60" stroke-width="1.3"/>
<line x1="530.10" y1="2835.80" x2="741.90" y2="2835.80" stroke-width="1.3"/>
<line x1="530.10" y1="2859.80" x2="741.90" y2="2859.80" stroke-width="1.3"/>
<line x1="530.10" y1="2883.80" x2="741.90" y2="2883.80" stroke-width="1.3"/>
<line x1="530.60" y1="2806.60" x2="530.60" y2="2883.80" stroke-width="1.3"/>
<line x1="741.40" y1="2806.60" x2="741.40" y2="2883.80" stroke-width="1.3"/>
<line x1="626.40" y1="2859.80" x2="626.40" y2="2883.80" stroke-width="1.3"/>
<line x1="677.40" y1="2859.80" x2="677.40" y2="2883.80" stroke-width="1.3"/>
</g>
<text x="537.40" y="2824.20" class="b" textLength="148.19" lengthAdjust="spacingAndGlyphs">ecmevent_errorcode</text>
<text x="734.00" y="2824.60" text-anchor="end">[table]</text>
<rect x="536.90" y="2850.90" width="1.2" height="1.2" fill="#000"/>
<rect x="540.90" y="2850.90" width="1.2" height="1.2" fill="#000"/>
<rect x="544.90" y="2850.90" width="1.2" height="1.2" fill="#000"/>
<text x="535.20" y="2875.80">&lt; 5</text>
<text x="736.60" y="2875.80" text-anchor="end">1 &gt;</text>
<rect x="527.00" y="2949.80" width="217.70" height="25.60" fill="#f4f4f4"/>
<g stroke="#000">
<line x1="524.70" y1="2948.00" x2="747.00" y2="2948.00" stroke-width="1.3"/>
<line x1="524.70" y1="2977.20" x2="747.00" y2="2977.20" stroke-width="1.3"/>
<line x1="524.70" y1="3001.20" x2="747.00" y2="3001.20" stroke-width="1.3"/>
<line x1="524.70" y1="3025.20" x2="747.00" y2="3025.20" stroke-width="1.3"/>
<line x1="525.20" y1="2948.00" x2="525.20" y2="3025.20" stroke-width="1.3"/>
<line x1="746.50" y1="2948.00" x2="746.50" y2="3025.20" stroke-width="1.3"/>
<line x1="633.05" y1="3001.20" x2="633.05" y2="3025.20" stroke-width="1.3"/>
<line x1="689.77" y1="3001.20" x2="689.77" y2="3025.20" stroke-width="1.3"/>
</g>
<text x="532.90" y="2965.60" class="b" textLength="154.85" lengthAdjust="spacingAndGlyphs">ecmerrorcode_history</text>
<text x="739.10" y="2966.00" text-anchor="end">[table]</text>
<rect x="531.90" y="2991.90" width="1.2" height="1.2" fill="#000"/>
<rect x="535.90" y="2991.90" width="1.2" height="1.2" fill="#000"/>
<rect x="539.90" y="2991.90" width="1.2" height="1.2" fill="#000"/>
<text x="529.80" y="3017.20">&lt; 1</text>
<rect x="575.20" y="3055.10" width="123.20" height="25.60" fill="#f4f4f4"/>
<g stroke="#000">
<line x1="572.90" y1="3053.30" x2="700.70" y2="3053.30" stroke-width="1.3"/>
<line x1="572.90" y1="3082.50" x2="700.70" y2="3082.50" stroke-width="1.3"/>
<line x1="572.90" y1="3106.50" x2="700.70" y2="3106.50" stroke-width="1.3"/>
<line x1="572.90" y1="3130.50" x2="700.70" y2="3130.50" stroke-width="1.3"/>
<line x1="573.40" y1="3053.30" x2="573.40" y2="3130.50" stroke-width="1.3"/>
<line x1="700.20" y1="3053.30" x2="700.20" y2="3130.50" stroke-width="1.3"/>
<line x1="633.05" y1="3106.50" x2="633.05" y2="3130.50" stroke-width="1.3"/>
<line x1="666.62" y1="3106.50" x2="666.62" y2="3130.50" stroke-width="1.3"/>
</g>
<text x="579.90" y="3070.90" class="b" textLength="68.80" lengthAdjust="spacingAndGlyphs">ecmevent</text>
<text x="692.80" y="3071.30" text-anchor="end">[table]</text>
<rect x="579.90" y="3097.90" width="1.2" height="1.2" fill="#000"/>
<rect x="583.90" y="3097.90" width="1.2" height="1.2" fill="#000"/>
<rect x="587.90" y="3097.90" width="1.2" height="1.2" fill="#000"/>
<text x="578.00" y="3122.50">&lt; 4</text>
<rect x="533.80" y="3160.40" width="205.50" height="25.60" fill="#f4f4f4"/>
<g stroke="#000">
<line x1="531.50" y1="3158.60" x2="741.60" y2="3158.60" stroke-width="1.3"/>
<line x1="531.50" y1="3187.80" x2="741.60" y2="3187.80" stroke-width="1.3"/>
<line x1="531.50" y1="3211.80" x2="741.60" y2="3211.80" stroke-width="1.3"/>
<line x1="531.50" y1="3235.80" x2="741.60" y2="3235.80" stroke-width="1.3"/>
<line x1="532.00" y1="3158.60" x2="532.00" y2="3235.80" stroke-width="1.3"/>
<line x1="741.10" y1="3158.60" x2="741.10" y2="3235.80" stroke-width="1.3"/>
<line x1="633.05" y1="3211.80" x2="633.05" y2="3235.80" stroke-width="1.3"/>
<line x1="687.08" y1="3211.80" x2="687.08" y2="3235.80" stroke-width="1.3"/>
</g>
<text x="539.80" y="3176.20" class="b" textLength="145.40" lengthAdjust="spacingAndGlyphs">ecmevent_incidence</text>
<text x="733.70" y="3176.60" text-anchor="end">[table]</text>
<rect x="538.90" y="3202.90" width="1.2" height="1.2" fill="#000"/>
<rect x="542.90" y="3202.90" width="1.2" height="1.2" fill="#000"/>
<rect x="546.90" y="3202.90" width="1.2" height="1.2" fill="#000"/>
<text x="536.60" y="3227.80">&lt; 5</text>
<rect x="531.00" y="3265.70" width="209.80" height="25.60" fill="#f4f4f4"/>
<g stroke="#000">
<line x1="528.70" y1="3263.90" x2="743.10" y2="3263.90" stroke-width="1.3"/>
<line x1="528.70" y1="3293.10" x2="743.10" y2="3293.10" stroke-width="1.3"/>
<line x1="528.70" y1="3317.10" x2="743.10" y2="3317.10" stroke-width="1.3"/>
<line x1="528.70" y1="3341.10" x2="743.10" y2="3341.10" stroke-width="1.3"/>
<line x1="529.20" y1="3263.90" x2="529.20" y2="3341.10" stroke-width="1.3"/>
<line x1="742.60" y1="3263.90" x2="742.60" y2="3341.10" stroke-width="1.3"/>
<line x1="633.05" y1="3317.10" x2="633.05" y2="3341.10" stroke-width="1.3"/>
<line x1="687.83" y1="3317.10" x2="687.83" y2="3341.10" stroke-width="1.3"/>
</g>
<text x="536.30" y="3281.50" class="b" textLength="148.07" lengthAdjust="spacingAndGlyphs">ecmevent_parameter</text>
<text x="735.20" y="3281.90" text-anchor="end">[table]</text>
<rect x="535.90" y="3307.90" width="1.2" height="1.2" fill="#000"/>
<rect x="539.90" y="3307.90" width="1.2" height="1.2" fill="#000"/>
<rect x="543.90" y="3307.90" width="1.2" height="1.2" fill="#000"/>
<text x="533.80" y="3333.10">&lt; 5</text>
<rect x="198.60" y="377.90" width="216.30" height="25.60" fill="#f4f4f4"/>
<g stroke="#000">
<line x1="196.30" y1="376.10" x2="417.20" y2="376.10" stroke-width="1.3"/>
<line x1="196.30" y1="405.30" x2="417.20" y2="405.30" stroke-width="1.3"/>
<line x1="196.30" y1="429.30" x2="417.20" y2="429.30" stroke-width="1.3"/>
<line x1="196.30" y1="453.30" x2="417.20" y2="453.30" stroke-width="1.3"/>
<line x1="196.80" y1="376.10" x2="196.80" y2="453.30" stroke-width="1.3"/>
<line x1="416.70" y1="376.10" x2="416.70" y2="453.30" stroke-width="1.3"/>
<line x1="297.70" y1="429.30" x2="297.70" y2="453.30" stroke-width="1.3"/>
<line x1="351.50" y1="429.30" x2="351.50" y2="453.30" stroke-width="1.3"/>
</g>
<text x="202.90" y="393.70" class="b" textLength="158.74" lengthAdjust="spacingAndGlyphs">georeferencecategory</text>
<text x="409.30" y="394.10" text-anchor="end">[table]</text>
<rect x="202.90" y="419.90" width="1.2" height="1.2" fill="#000"/>
<rect x="206.90" y="419.90" width="1.2" height="1.2" fill="#000"/>
<rect x="211.90" y="419.90" width="1.2" height="1.2" fill="#000"/>
<text x="201.40" y="445.30">&lt; 1</text>
<text x="411.90" y="445.30" text-anchor="end">3 &gt;</text>
<rect x="217.20" y="1821.70" width="179.20" height="25.60" fill="#f4f4f4"/>
<g stroke="#000">
<line x1="214.90" y1="1819.90" x2="398.70" y2="1819.90" stroke-width="1.3"/>
<line x1="214.90" y1="1849.10" x2="398.70" y2="1849.10" stroke-width="1.3"/>
<line x1="214.90" y1="1878.40" x2="398.70" y2="1878.40" stroke-width="1.3"/>
<line x1="214.90" y1="1907.70" x2="398.70" y2="1907.70" stroke-width="1.3"/>
<line x1="214.90" y1="1937.00" x2="398.70" y2="1937.00" stroke-width="1.3"/>
<line x1="214.90" y1="1966.30" x2="398.70" y2="1966.30" stroke-width="1.3"/>
<line x1="214.90" y1="1995.60" x2="398.70" y2="1995.60" stroke-width="1.3"/>
<line x1="214.90" y1="2024.90" x2="398.70" y2="2024.90" stroke-width="1.3"/>
<line x1="214.90" y1="2048.90" x2="398.70" y2="2048.90" stroke-width="1.3"/>
<line x1="214.90" y1="2072.90" x2="398.70" y2="2072.90" stroke-width="1.3"/>
<line x1="215.40" y1="1819.90" x2="215.40" y2="2072.90" stroke-width="1.3"/>
<line x1="398.20" y1="1819.90" x2="398.20" y2="2072.90" stroke-width="1.3"/>
<line x1="293.80" y1="2048.90" x2="293.80" y2="2072.90" stroke-width="1.3"/>
<line x1="335.40" y1="2048.90" x2="335.40" y2="2072.90" stroke-width="1.3"/>
</g>
<text x="218.60" y="1837.50" class="b" textLength="27.46" lengthAdjust="spacingAndGlyphs">unit</text>
<text x="389.80" y="1837.90" text-anchor="end">[table]</text>
<g fill="#d4dc00"><circle cx="229.40" cy="1859.40" r="3.35"/><rect x="228.00" y="1861.40" width="2.8" height="11" rx="1"/><rect x="230.40" y="1865.40" width="1" height="1.2"/><rect x="230.40" y="1867.90" width="1" height="1.2"/></g><circle cx="229.40" cy="1858.20" r="0.9" fill="#fff"/>
<text x="242.00" y="1867.10">idunit</text>
<g fill="#c4c4c4"><circle cx="229.40" cy="1888.70" r="3.35"/><rect x="228.00" y="1890.70" width="2.8" height="11" rx="1"/><rect x="230.40" y="1894.70" width="1" height="1.2"/><rect x="230.40" y="1897.20" width="1" height="1.2"/></g><circle cx="229.40" cy="1887.50" r="0.9" fill="#fff"/>
<text x="242.00" y="1896.40">idunittype</text>
<g fill="#c4c4c4"><circle cx="229.40" cy="1918.00" r="3.35"/><rect x="228.00" y="1920.00" width="2.8" height="11" rx="1"/><rect x="230.40" y="1924.00" width="1" height="1.2"/><rect x="230.40" y="1926.50" width="1" height="1.2"/></g><circle cx="229.40" cy="1916.80" r="0.9" fill="#fff"/>
<text x="242.00" y="1925.70">idclient</text>
<text x="242.00" y="1955.00">alias</text>
<text x="242.00" y="1984.30">enabled</text>
<g fill="#c4c4c4"><circle cx="229.40" cy="2005.90" r="3.35"/><rect x="228.00" y="2007.90" width="2.8" height="11" rx="1"/><rect x="230.40" y="2011.90" width="1" height="1.2"/><rect x="230.40" y="2014.40" width="1" height="1.2"/></g><circle cx="229.40" cy="2004.70" r="0.9" fill="#fff"/>
<text x="242.00" y="2013.60">idbranch</text>
<rect x="221.90" y="2039.90" width="1.2" height="1.2" fill="#000"/>
<rect x="225.90" y="2039.90" width="1.2" height="1.2" fill="#000"/>
<rect x="229.90" y="2039.90" width="1.2" height="1.2" fill="#000"/>
<text x="220.00" y="2064.90">&lt; 2</text>
<text x="393.40" y="2064.90" text-anchor="end">30 &gt;</text>
<rect x="28.30" y="524.30" width="90.50" height="25.60" fill="#f4f4f4"/>
<g stroke="#000">
<line x1="26.00" y1="522.50" x2="121.10" y2="522.50" stroke-width="1.3"/>
<line x1="26.00" y1="551.70" x2="121.10" y2="551.70" stroke-width="1.3"/>
<line x1="26.00" y1="575.70" x2="121.10" y2="575.70" stroke-width="1.3"/>
<line x1="26.00" y1="599.70" x2="121.10" y2="599.70" stroke-width="1.3"/>
<line x1="26.50" y1="522.50" x2="26.50" y2="599.70" stroke-width="1.3"/>
<line x1="120.60" y1="522.50" x2="120.60" y2="599.70" stroke-width="1.3"/>
<line x1="61.30" y1="575.70" x2="61.30" y2="599.70" stroke-width="1.3"/>
<line x1="81.10" y1="575.70" x2="81.10" y2="599.70" stroke-width="1.3"/>
</g>
<text x="32.00" y="540.10" class="b" textLength="38.45" lengthAdjust="spacingAndGlyphs">client</text>
<text x="113.20" y="540.50" text-anchor="end">[table]</text>
<rect x="32.90" y="566.90" width="1.2" height="1.2" fill="#000"/>
<rect x="36.90" y="566.90" width="1.2" height="1.2" fill="#000"/>
<rect x="40.90" y="566.90" width="1.2" height="1.2" fill="#000"/>
<text x="31.10" y="591.70">&lt; 5</text>
<text x="115.80" y="591.70" text-anchor="end">27 &gt;</text>
<rect x="17.60" y="1853.80" width="111.00" height="25.60" fill="#f4f4f4"/>
<g stroke="#000">
<line x1="15.30" y1="1852.00" x2="130.90" y2="1852.00" stroke-width="1.3"/>
<line x1="15.30" y1="1881.20" x2="130.90" y2="1881.20" stroke-width="1.3"/>
<line x1="15.30" y1="1905.20" x2="130.90" y2="1905.20" stroke-width="1.3"/>
<line x1="15.30" y1="1929.20" x2="130.90" y2="1929.20" stroke-width="1.3"/>
<line x1="15.80" y1="1852.00" x2="15.80" y2="1929.20" stroke-width="1.3"/>
<line x1="130.40" y1="1852.00" x2="130.40" y2="1929.20" stroke-width="1.3"/>
<line x1="58.60" y1="1905.20" x2="58.60" y2="1929.20" stroke-width="1.3"/>
<line x1="88.20" y1="1905.20" x2="88.20" y2="1929.20" stroke-width="1.3"/>
</g>
<text x="22.00" y="1869.60" class="b" textLength="55.50" lengthAdjust="spacingAndGlyphs">unittype</text>
<text x="123.00" y="1870.00" text-anchor="end">[table]</text>
<rect x="21.90" y="1895.90" width="1.2" height="1.2" fill="#000"/>
<rect x="25.90" y="1895.90" width="1.2" height="1.2" fill="#000"/>
<rect x="30.90" y="1895.90" width="1.2" height="1.2" fill="#000"/>
<text x="125.60" y="1921.20" text-anchor="end">1 &gt;</text>
<rect x="860.00" y="1017.10" width="289.60" height="25.50" fill="#f4f4f4"/>
<g stroke="#000">
<line x1="858.00" y1="1044.20" x2="1151.60" y2="1044.20" stroke-width="1.3"/>
<line x1="858.00" y1="1074.40" x2="1151.60" y2="1074.40" stroke-width="1.3"/>
<line x1="858.00" y1="1103.70" x2="1151.60" y2="1103.70" stroke-width="1.3"/>
<line x1="858.00" y1="1133.10" x2="1151.60" y2="1133.10" stroke-width="1.3"/>
<line x1="858.00" y1="1162.00" x2="1151.60" y2="1162.00" stroke-width="1.3"/>
<line x1="1026.00" y1="1044.20" x2="1026.00" y2="1187.20" stroke-width="1.3"/>
<line x1="948.70" y1="1162.00" x2="948.70" y2="1187.20" stroke-width="1.3"/>
<rect x="858.00" y="1015.10" width="293.60" height="172.10" fill="none" stroke-width="3.6"/>
</g>
<text x="866.20" y="1031.90" class="b" textLength="125.00" lengthAdjust="spacingAndGlyphs">current_geofence</text>
<text x="1144.50" y="1032.90" text-anchor="end">[table]</text>
<g fill="#c4c4c4"><circle cx="873.40" cy="1054.00" r="3.35"/><rect x="872.00" y="1056.00" width="2.8" height="11" rx="1"/><rect x="874.40" y="1060.00" width="1" height="1.2"/><rect x="874.40" y="1062.50" width="1" height="1.2"/></g><circle cx="873.40" cy="1052.80" r="0.9" fill="#fff"/>
<text x="885.30" y="1062.50">idunit</text>
<text x="1029.60" y="1062.50">int4[10]</text>
<g fill="#c4c4c4"><circle cx="873.40" cy="1084.20" r="3.35"/><rect x="872.00" y="1086.20" width="2.8" height="11" rx="1"/><rect x="874.40" y="1090.20" width="1" height="1.2"/><rect x="874.40" y="1092.70" width="1" height="1.2"/></g><circle cx="873.40" cy="1083.00" r="0.9" fill="#fff"/>
<text x="885.30" y="1092.70">idgeoreference</text>
<text x="1029.60" y="1092.70">int4[10]</text>
<text x="885.30" y="1122.00">seendate</text>
<text x="1029.60" y="1122.00">timestamptz[35,6]</text>
<g fill="#d4dc00"><circle cx="873.40" cy="1142.90" r="3.35"/><rect x="872.00" y="1144.90" width="2.8" height="11" rx="1"/><rect x="874.40" y="1148.90" width="1" height="1.2"/><rect x="874.40" y="1151.40" width="1" height="1.2"/></g><circle cx="873.40" cy="1141.70" r="0.9" fill="#fff"/>
<text x="885.30" y="1151.40">idcurrentgeofence</text>
<text x="1029.60" y="1151.40">serial[10]</text>
<text x="861.60" y="1178.70">&lt; 2</text>
<text x="1147.00" y="1178.70" text-anchor="end">0 &gt;</text>
<text x="15.60" y="3381.00">Generated by SchemaSpy</text>
<g fill="none" stroke="#000" stroke-width="1.25">
<path d="M728.20,314.60C738.91,313.50 750.14,312.88 760.00,308.00C770.90,302.61 782.60,291.92 790.00,282.00C796.79,272.89 799.84,264.51 803.80,251.50C810.10,230.78 812.59,192.72 817.80,167.70C822.09,147.09 825.62,128.47 831.80,111.80C837.18,97.28 842.93,82.28 851.40,72.70C858.43,64.75 868.83,59.29 876.50,56.00C882.10,53.60 886.90,53.04 892.20,52.45"/>
<path d="M728.20,314.60C739.57,313.50 751.49,313.04 762.00,308.00C773.59,302.45 785.67,291.82 794.00,281.00C802.35,270.16 803.90,254.92 812.00,243.00C820.79,230.06 834.44,217.43 845.80,206.80C855.96,197.29 866.49,189.21 876.50,181.70C885.51,174.94 893.90,167.51 903.00,163.50C911.15,159.91 919.62,158.67 928.10,157.70"/>
<path d="M728.20,314.60C742.16,314.00 756.89,313.20 770.00,311.00C781.95,309.00 792.07,306.39 803.80,302.50C817.20,298.05 831.79,290.71 845.80,285.00C859.75,279.31 874.45,271.98 887.70,268.30C898.99,265.16 909.72,263.84 920.00,263.00C929.26,262.24 937.73,263.00 946.60,263.00"/>
<path d="M728.20,314.60C744.18,315.73 760.92,316.50 775.90,321.40C790.77,326.27 805.31,336.74 817.80,343.80C828.15,349.65 835.75,356.43 845.80,360.50C856.05,364.65 867.65,367.00 878.80,368.30"/>
<path d="M728.20,314.60C740.59,315.83 754.71,316.94 765.00,322.00C774.27,326.56 781.74,333.56 788.00,342.00C795.05,351.51 798.21,364.12 803.80,377.30C810.77,393.74 818.05,418.13 826.20,433.20C832.34,444.55 838.12,454.31 845.80,461.20C852.47,467.18 860.34,471.53 868.40,473.60"/>
<path d="M728.20,314.60C741.65,316.17 757.47,317.60 768.00,324.00C777.54,329.79 784.02,337.91 789.90,349.40C798.50,366.20 801.22,397.24 806.60,419.20C811.42,438.88 813.88,457.61 820.60,475.10C827.09,492.00 835.98,508.67 845.80,522.60C854.83,535.41 865.82,547.31 876.50,556.20C885.67,563.84 895.67,570.23 905.00,574.00C912.82,577.16 920.31,578.08 928.10,578.90"/>
<path d="M728.20,314.60C741.73,316.50 757.72,318.18 768.00,326.00C778.38,333.90 784.86,348.03 790.00,362.00C796.02,378.36 796.77,397.52 799.00,419.20C801.90,447.39 799.43,485.84 803.80,517.00C807.90,546.23 814.85,578.19 823.40,600.90C829.75,617.76 835.59,630.50 845.80,642.80C856.66,655.88 872.73,669.57 887.70,676.40C901.19,682.55 916.18,682.90 930.60,684.20"/>
<path d="M728.20,314.60C742.35,316.33 758.57,317.53 770.00,325.00C781.57,332.56 791.05,347.88 797.00,360.00C802.22,370.65 803.80,380.15 805.60,393.00C808.04,410.36 807.01,432.38 807.10,455.20C807.21,483.14 805.67,515.11 805.60,548.40C805.52,586.83 806.58,631.21 807.10,672.60C807.62,713.98 807.47,757.24 808.70,796.70C809.82,832.72 812.09,872.61 813.80,900.00C814.93,918.11 815.70,930.08 817.20,945.10C818.70,960.15 820.74,975.18 822.80,990.20C824.87,1005.25 826.21,1020.62 829.60,1035.30C832.96,1049.82 834.74,1066.37 842.98,1077.84"/>
<path d="M728.20,314.60C740.71,316.33 755.32,318.12 765.00,325.00C774.47,331.73 781.32,343.84 786.00,355.00C790.82,366.48 791.78,378.79 793.10,393.10C794.77,411.22 791.55,434.56 793.10,455.20C794.66,475.96 799.38,496.60 802.50,517.30C805.62,538.00 808.58,556.59 811.80,579.40C815.75,607.31 820.74,639.26 824.20,672.60C828.19,710.96 831.14,757.21 833.50,796.70C835.65,832.69 837.43,866.73 838.10,900.00C838.72,931.08 837.72,962.30 837.70,990.20C837.68,1014.36 837.67,1035.74 837.90,1057.80C838.12,1078.97 838.19,1097.97 839.00,1120.00C839.92,1145.00 842.60,1176.45 843.50,1200.00C844.21,1218.61 844.68,1232.14 844.50,1250.00C844.29,1270.64 843.15,1290.58 841.80,1316.70C839.88,1353.92 836.12,1406.90 833.30,1452.00C830.48,1497.10 826.20,1545.43 824.90,1587.30C823.78,1623.51 822.08,1659.30 824.90,1688.70C827.11,1711.69 829.90,1733.59 836.70,1749.60C841.83,1761.68 849.29,1771.83 857.00,1778.50C863.22,1783.88 870.26,1787.01 877.51,1788.86"/>
<path d="M416.70,417.30C423.19,416.72 429.77,415.59 436.00,413.80C442.20,412.02 448.09,409.51 454.00,406.60C460.17,403.56 466.15,399.41 472.20,395.80C478.22,392.21 484.09,388.10 490.20,385.00C496.10,382.01 502.29,379.02 508.20,377.40C513.54,375.94 518.73,375.86 524.01,375.24"/>
<path d="M416.70,417.30C422.60,416.87 429.09,416.64 434.30,414.70C439.09,412.91 443.79,409.96 447.00,406.60C449.92,403.55 451.85,399.93 453.20,395.80C454.75,391.06 454.80,385.44 455.00,379.50C455.24,372.39 454.44,363.97 454.00,356.00C453.55,347.74 452.45,338.99 452.30,330.80C452.16,323.01 452.34,315.33 453.00,308.00C453.62,301.10 454.15,295.00 456.00,288.00C458.17,279.79 461.76,269.74 466.00,262.00C469.90,254.88 474.54,249.88 480.00,243.00C486.92,234.28 494.62,225.53 504.60,214.20C519.44,197.35 541.63,171.38 560.90,152.20C579.24,133.95 597.55,114.95 617.30,101.50C635.31,89.23 654.51,80.40 673.70,73.30C692.11,66.49 711.10,62.30 730.00,59.20C748.67,56.14 767.59,55.77 786.40,54.70C805.19,53.63 824.62,53.17 842.80,52.80C859.81,52.45 875.73,52.51 892.20,52.45"/>
<path d="M120.60,563.70C131.55,560.48 144.19,554.32 150.60,544.40C158.29,532.51 156.94,510.65 158.20,493.70C159.46,476.85 157.78,459.90 158.20,443.00C158.62,426.07 156.90,406.63 160.70,392.20C163.81,380.39 168.39,370.69 176.00,361.80C184.62,351.74 198.12,343.73 211.50,336.40C226.47,328.21 245.96,319.96 262.20,316.10C276.23,312.77 289.72,312.52 302.80,312.60C315.03,312.68 325.43,314.65 338.30,316.10C353.71,317.83 372.48,319.69 389.00,322.50C405.02,325.23 421.34,329.57 436.00,332.60C448.84,335.26 460.11,337.96 472.20,339.80C484.18,341.62 498.64,343.04 508.20,343.60C514.49,343.97 518.67,343.77 523.90,343.80"/>
<path d="M120.60,563.70C128.93,562.42 138.56,561.53 145.00,556.00C152.59,549.48 157.48,536.60 160.70,524.10C164.73,508.43 162.01,484.35 163.30,468.30C164.29,456.05 164.11,444.31 167.00,436.00C169.06,430.08 171.55,424.85 175.69,421.99"/>
<path d="M120.60,563.70C262.07,563.82 403.53,564.28 545.00,564.40"/>
<path d="M120.60,563.70C143.87,565.02 169.67,567.40 190.20,571.60C207.03,575.05 218.87,580.50 235.30,585.10C254.88,590.59 276.70,595.63 300.00,602.00C327.57,609.54 366.04,620.54 390.00,627.70C406.04,632.49 416.76,636.47 430.00,640.20C442.85,643.82 455.52,646.60 468.30,649.80C481.09,653.00 493.05,656.75 506.70,659.40C521.95,662.36 539.25,664.68 555.63,666.23"/>
<path d="M120.60,563.70C129.10,565.38 139.11,568.23 145.10,573.80C150.95,579.24 153.15,586.91 156.40,596.40C161.30,610.71 164.50,634.94 167.60,652.70C170.37,668.53 172.60,681.20 174.40,697.80C176.59,718.04 177.97,742.93 178.90,765.50C179.83,788.03 179.80,808.94 180.00,833.10C180.23,861.00 180.45,894.45 180.00,923.30C179.58,949.91 178.55,969.04 177.60,1000.00C176.15,1047.49 174.30,1120.34 172.20,1180.50C170.10,1240.67 167.40,1300.83 165.00,1361.00C162.60,1421.17 159.28,1488.97 157.80,1541.50C156.65,1582.18 156.00,1613.70 156.00,1649.80C156.00,1685.90 155.92,1725.68 157.80,1758.10C159.34,1784.63 161.25,1808.84 165.00,1830.30C168.09,1847.97 171.61,1863.39 177.00,1878.00C181.92,1891.35 185.80,1906.27 195.25,1914.80"/>
<path d="M130.40,1893.10C151.57,1893.10 172.73,1893.10 193.90,1893.10"/>
<path d="M688.10,2179.70C700.08,2179.27 712.02,2179.57 724.00,2177.10C736.68,2174.49 750.33,2170.92 762.10,2163.90C774.90,2156.27 787.08,2144.10 797.20,2131.70C807.70,2118.83 817.25,2103.35 823.60,2087.70C829.94,2072.08 833.34,2054.85 835.30,2037.90C837.29,2020.70 836.19,2003.22 835.30,1985.20C834.36,1966.14 831.10,1946.07 829.50,1926.50C827.90,1906.97 825.24,1886.22 825.70,1867.90C826.11,1851.65 825.99,1834.45 831.00,1822.00C835.13,1811.73 841.98,1802.41 850.00,1797.00C857.64,1791.85 868.17,1790.75 877.50,1789.50"/>
<path d="M688.10,2179.70C704.94,2180.00 722.42,2179.61 738.60,2181.50C753.85,2183.28 768.00,2186.90 782.60,2190.30C797.30,2193.72 811.80,2198.58 826.50,2202.00C841.10,2205.40 855.96,2208.85 870.50,2210.80C884.55,2212.68 898.39,2212.51 912.30,2213.70"/>
<path d="M741.40,2847.80C754.42,2848.25 767.82,2847.92 780.40,2850.50C792.84,2853.05 804.74,2858.70 816.50,2863.10C827.92,2867.38 839.38,2873.31 850.00,2876.50C859.14,2879.25 867.48,2880.02 876.20,2881.90"/>
<path d="M398.20,1863.80C403.14,1860.54 408.90,1858.61 413.03,1854.01C417.87,1848.61 421.11,1840.17 424.22,1832.32C427.61,1823.76 430.00,1813.81 432.19,1804.41C434.38,1795.02 436.00,1784.98 437.36,1775.94C438.59,1767.79 439.55,1759.18 440.16,1752.58C440.61,1747.75 440.70,1746.83 441.00,1740.00C442.30,1710.20 444.98,1584.46 446.00,1500.00C447.14,1405.58 446.86,1283.95 447.00,1200.00C447.10,1139.27 446.82,1099.56 447.00,1043.00C447.21,976.51 447.08,885.95 448.40,826.00C449.34,783.56 450.06,747.26 452.50,717.30C454.23,696.05 456.87,679.79 459.30,663.00C461.41,648.41 462.12,634.16 466.00,622.20C469.32,611.96 472.72,602.90 479.60,595.10C487.43,586.23 500.88,578.45 512.20,573.30C522.74,568.50 533.87,565.88 545.00,564.40"/>
<path d="M398.20,1863.80C403.72,1860.68 410.14,1858.99 414.76,1854.45C419.95,1849.37 423.58,1841.37 426.93,1833.84C430.56,1825.67 433.05,1816.12 435.32,1807.02C437.60,1797.86 439.21,1788.05 440.55,1779.06C441.79,1770.77 442.67,1762.11 443.24,1755.03C443.69,1749.44 443.69,1748.08 444.00,1740.00C445.30,1706.41 449.72,1558.73 451.00,1480.00C452.06,1414.51 451.76,1367.62 452.00,1300.00C452.32,1212.70 452.31,1089.90 452.50,1000.00C452.65,926.60 450.84,848.57 453.00,800.00C454.24,772.09 455.01,751.13 458.70,734.20C461.13,723.07 463.77,715.95 468.30,707.30C473.17,698.00 479.93,687.18 487.50,680.50C494.24,674.55 502.58,670.48 510.50,668.00C517.94,665.67 525.91,665.57 533.50,665.50C540.94,665.43 548.22,667.17 555.60,667.50"/>
<path d="M398.20,1863.80C404.10,1860.79 410.96,1859.25 415.91,1854.77C421.32,1849.88 425.23,1842.19 428.73,1834.87C432.52,1826.97 435.09,1817.67 437.41,1808.77C439.75,1799.77 441.35,1790.10 442.68,1781.15C443.92,1772.77 444.74,1764.05 445.29,1756.67C445.75,1750.59 445.66,1748.87 446.00,1740.00C447.35,1704.98 453.64,1558.73 455.00,1480.00C456.13,1414.51 455.00,1367.62 455.00,1300.00C455.00,1212.70 454.89,1091.11 455.00,1000.00C455.09,923.77 452.04,834.65 455.50,790.00C457.13,768.91 458.39,757.50 462.60,743.70C466.29,731.61 471.80,720.76 477.90,711.20C483.47,702.47 489.58,694.16 497.10,688.20C504.36,682.45 513.66,678.41 522.00,675.70C529.63,673.22 538.78,672.53 545.00,671.90C549.19,671.48 552.07,671.57 555.60,671.50"/>
<path d="M398.20,1863.80C404.49,1860.90 411.78,1859.51 417.07,1855.09C422.69,1850.41 426.88,1843.03 430.54,1835.92C434.47,1828.29 437.13,1819.24 439.50,1810.54C441.90,1801.70 443.49,1792.17 444.81,1783.25C446.06,1774.78 446.82,1765.99 447.35,1758.31C447.80,1751.74 447.74,1749.65 448.00,1740.00C449.00,1703.65 452.02,1558.72 453.00,1480.00C453.81,1414.50 453.68,1368.15 454.00,1300.00C454.42,1210.42 453.30,1059.19 455.20,989.00C456.17,953.05 457.76,931.91 459.30,907.50C460.55,887.56 461.36,868.15 463.40,853.20C464.86,842.53 466.16,834.95 468.80,826.00C471.51,816.81 474.45,806.61 479.60,798.80C484.54,791.31 492.97,783.79 498.70,779.80C502.44,777.20 505.46,775.80 509.10,775.00"/>
<path d="M398.20,1863.80C404.88,1861.01 412.60,1859.77 418.23,1855.43C424.05,1850.94 428.52,1843.89 432.35,1836.98C436.43,1829.62 439.17,1820.83 441.59,1812.32C444.06,1803.63 445.62,1794.24 446.93,1785.35C448.19,1776.79 448.89,1767.92 449.40,1759.95C449.85,1752.91 449.70,1750.42 450.00,1740.00C451.07,1702.40 456.16,1558.73 457.00,1480.00C457.70,1414.51 456.09,1363.64 456.00,1300.00C455.89,1228.14 455.12,1127.62 456.60,1070.50C457.48,1036.44 458.05,1012.65 460.60,989.00C462.59,970.56 463.98,954.06 468.80,940.10C472.80,928.53 478.42,918.99 485.10,910.20C491.57,901.70 500.92,893.18 508.00,888.00C513.05,884.30 517.21,881.58 522.30,880.30"/>
<path d="M398.20,1863.80C405.26,1861.13 413.41,1860.04 419.38,1855.79C425.42,1851.49 430.17,1844.77 434.16,1838.06C438.38,1830.97 441.21,1822.43 443.67,1814.12C446.21,1805.59 447.76,1796.32 449.06,1787.47C450.33,1778.81 450.97,1769.84 451.45,1761.60C451.90,1754.08 451.92,1751.18 452.00,1740.00C452.27,1701.22 447.71,1558.71 449.00,1480.00C450.08,1414.48 455.74,1359.61 457.00,1300.00C458.24,1241.22 454.21,1167.82 456.60,1124.80C458.00,1099.58 459.82,1082.17 463.40,1065.00C466.20,1051.57 468.15,1039.85 474.20,1029.80C480.06,1020.05 489.33,1012.05 498.70,1005.30C508.31,998.38 522.09,992.19 531.30,989.00C537.56,986.83 542.24,986.17 547.80,985.60"/>
<path d="M398.20,1863.80C405.65,1861.25 414.22,1860.31 420.54,1856.15C426.78,1852.05 431.82,1845.66 435.97,1839.16C440.32,1832.34 443.25,1824.05 445.76,1815.93C448.37,1807.55 449.89,1798.41 451.19,1789.59C452.47,1780.85 453.04,1771.76 453.51,1763.24C453.94,1755.26 453.74,1751.93 454.00,1740.00C454.88,1700.10 460.62,1558.71 460.00,1480.00C459.48,1414.49 453.43,1351.28 453.00,1300.00C452.68,1261.75 452.58,1227.01 455.20,1199.80C457.02,1180.87 458.48,1165.33 463.40,1152.00C467.37,1141.23 472.13,1132.65 479.60,1124.80C487.91,1116.07 500.24,1108.50 512.20,1103.10C524.62,1097.49 541.91,1094.04 553.00,1092.20C560.43,1090.96 565.59,1091.12 571.90,1090.90"/>
<path d="M398.20,1863.80C407.38,1861.85 417.82,1861.54 425.75,1857.96C432.90,1854.73 439.22,1849.92 444.12,1844.30C449.02,1838.69 452.42,1831.53 455.17,1824.26C458.08,1816.58 459.50,1807.92 460.76,1799.25C462.09,1790.10 462.37,1780.39 462.75,1770.69C463.14,1760.65 462.97,1755.23 463.00,1740.00C463.10,1695.68 463.30,1550.11 462.00,1480.00C461.11,1432.36 458.78,1395.19 458.00,1360.00C457.39,1332.37 454.92,1305.38 457.20,1286.00C458.71,1273.14 461.19,1264.50 465.10,1254.40C469.06,1244.19 474.84,1233.49 480.90,1225.10C486.28,1217.65 492.65,1210.99 498.90,1206.00C504.25,1201.72 509.52,1197.83 515.50,1196.20"/>
<path d="M398.20,1863.80C408.15,1862.15 419.42,1862.09 428.06,1858.84C435.62,1856.01 442.49,1851.93 447.74,1846.70C452.85,1841.61 456.50,1834.95 459.35,1828.06C462.40,1820.68 463.76,1812.19 465.01,1803.60C466.38,1794.26 466.52,1784.23 466.86,1774.02C467.22,1763.08 467.06,1756.65 467.00,1740.00C466.83,1693.96 466.23,1547.10 464.00,1480.00C462.59,1437.58 454.08,1398.59 458.30,1376.20C460.46,1364.73 465.01,1359.67 469.60,1351.40C474.62,1342.37 480.52,1331.79 487.60,1324.30C494.20,1317.33 501.33,1311.20 510.20,1307.40C520.12,1303.15 533.32,1302.48 545.00,1301.50"/>
<path d="M398.20,1863.80C408.76,1862.38 420.64,1862.50 429.87,1859.54C437.80,1857.01 445.13,1853.48 450.71,1848.54C456.04,1843.83 459.97,1837.57 462.98,1830.94C466.22,1823.81 467.63,1815.43 468.94,1806.88C470.41,1797.41 470.51,1787.11 470.86,1776.52C471.25,1764.91 471.48,1756.78 471.00,1740.00C469.93,1702.72 462.83,1602.38 460.00,1560.00C458.45,1536.84 455.42,1521.14 456.10,1506.30C456.59,1495.70 457.86,1487.62 460.60,1479.20C463.23,1471.14 466.77,1463.82 471.90,1456.70C477.67,1448.69 486.18,1440.84 494.40,1434.10C502.70,1427.29 511.54,1420.40 521.50,1416.10C531.78,1411.66 545.87,1409.68 555.30,1408.20C561.95,1407.16 566.76,1407.03 572.50,1406.80"/>
<path d="M398.20,1863.80C403.53,1860.63 409.72,1858.86 414.18,1854.30C419.26,1849.11 422.75,1840.97 426.02,1833.33C429.57,1825.03 432.03,1815.34 434.28,1806.14C436.53,1796.91 438.14,1787.02 439.49,1778.02C440.72,1769.77 441.63,1761.14 442.21,1754.21C442.67,1748.88 442.44,1746.65 443.00,1740.00C444.33,1724.17 449.25,1684.11 452.00,1660.00C454.27,1640.09 456.82,1621.22 458.30,1605.50C459.42,1593.55 458.98,1583.95 460.60,1573.90C462.12,1564.48 463.59,1554.79 467.40,1546.90C470.94,1539.57 475.64,1533.31 482.00,1527.80C489.36,1521.42 500.05,1514.72 510.10,1512.10"/>
<path d="M398.20,1863.80C403.91,1860.74 410.55,1859.12 415.34,1854.61C420.63,1849.62 424.40,1841.78 427.83,1834.35C431.54,1826.32 434.07,1816.89 436.36,1807.89C438.68,1798.81 440.28,1789.08 441.62,1780.10C442.86,1771.77 443.16,1764.71 444.27,1755.85C445.61,1745.05 447.36,1729.80 449.30,1720.00C450.67,1713.06 451.72,1708.39 453.80,1702.40C456.10,1695.78 458.82,1688.99 462.80,1682.10C467.48,1674.00 473.95,1665.04 480.90,1657.30C488.16,1649.22 496.81,1640.88 505.70,1634.80C514.14,1629.02 525.13,1624.26 532.70,1621.30C537.87,1619.28 541.61,1618.05 546.20,1617.40"/>
<path d="M398.20,1863.80C406.53,1861.63 416.00,1862.75 423.20,1857.30C432.65,1850.15 438.80,1830.99 445.70,1818.90C451.80,1808.21 457.08,1796.18 462.60,1788.50C466.45,1783.14 469.25,1780.92 474.00,1776.00C481.32,1768.42 492.76,1755.86 502.70,1747.90C511.79,1740.62 521.74,1733.88 530.90,1729.60C538.57,1726.02 545.73,1723.85 553.40,1722.70"/>
<path d="M398.20,1863.80C407.13,1860.87 417.27,1860.25 425.00,1855.00C433.28,1849.38 439.61,1837.16 445.70,1830.20C450.29,1824.96 453.38,1820.47 458.10,1816.70C462.82,1812.93 467.74,1810.29 474.00,1807.60C482.00,1804.17 491.39,1800.84 502.70,1799.00C518.22,1796.47 538.61,1797.35 559.10,1797.20C583.64,1797.02 614.89,1799.06 640.00,1798.60C661.91,1798.20 680.57,1797.44 701.50,1795.30C723.55,1793.05 750.87,1791.27 769.10,1785.10C782.79,1780.46 795.05,1776.15 802.90,1766.50C811.47,1755.95 813.30,1738.93 816.40,1722.50C820.16,1702.56 820.36,1679.73 821.50,1654.90C822.90,1624.53 823.12,1589.73 823.20,1553.50C823.29,1511.65 822.07,1463.30 821.50,1418.20C820.93,1373.10 819.71,1324.75 819.80,1282.90C819.88,1246.67 819.86,1209.49 821.50,1181.50C822.66,1161.64 824.24,1146.09 826.60,1130.70C828.59,1117.70 830.96,1105.63 834.00,1095.00C836.55,1086.08 837.88,1077.39 842.84,1070.91"/>
<path d="M398.20,1863.80C442.67,1863.90 487.13,1864.30 531.60,1864.40"/>
<path d="M398.20,1863.80C404.63,1865.53 411.15,1865.78 417.50,1869.00C425.15,1872.88 432.67,1880.78 440.10,1887.10C447.70,1893.57 454.89,1901.29 462.60,1907.40C469.94,1913.23 477.77,1917.54 485.20,1923.10C492.81,1928.79 500.27,1935.00 507.70,1941.20C515.21,1947.46 521.83,1955.72 530.00,1960.50C537.85,1965.09 546.80,1968.17 555.60,1969.70"/>
<path d="M398.20,1863.80C404.82,1867.97 412.33,1871.19 418.06,1876.30C423.74,1881.36 428.46,1887.70 432.47,1894.27C436.56,1900.97 439.63,1908.57 442.25,1916.18C444.91,1923.95 446.72,1932.25 448.21,1940.47C449.71,1948.72 450.05,1956.89 451.19,1965.59C452.42,1975.01 452.06,1986.10 455.40,1995.00C458.63,2003.61 464.38,2010.77 470.50,2018.30C477.32,2026.69 487.24,2035.15 495.00,2042.60C501.81,2049.14 506.98,2055.86 514.50,2060.70C522.40,2065.78 532.52,2069.63 541.60,2072.00C550.12,2074.23 558.70,2074.50 567.30,2075.00"/>
<path d="M398.20,1863.80C404.37,1868.08 411.41,1871.44 416.72,1876.65C422.06,1881.88 426.39,1888.44 430.09,1895.14C433.90,1902.03 436.71,1909.78 439.11,1917.50C441.56,1925.37 443.22,1933.74 444.58,1941.95C445.94,1950.14 446.71,1958.57 447.28,1966.71C447.83,1974.58 447.70,1979.90 448.00,1990.00C448.56,2008.82 447.01,2049.51 450.30,2070.80C452.52,2085.17 456.85,2096.87 460.40,2106.20C462.85,2112.64 464.66,2116.31 468.00,2122.00C472.36,2129.42 478.61,2138.97 485.20,2146.40C491.84,2153.88 499.32,2161.61 507.70,2166.70C515.89,2171.67 525.47,2174.53 534.80,2176.80C544.17,2179.08 554.10,2179.72 563.80,2180.30"/>
<path d="M398.20,1863.80C404.15,1868.13 410.96,1871.56 416.05,1876.80C421.22,1882.11 425.36,1888.78 428.91,1895.54C432.57,1902.52 435.25,1910.36 437.55,1918.14C439.89,1926.06 441.47,1934.46 442.76,1942.68C444.05,1950.84 444.78,1959.22 445.32,1967.27C445.84,1974.98 446.02,1982.64 446.00,1990.00C445.98,1996.96 446.10,2002.05 445.30,2010.30C444.03,2023.38 439.87,2044.84 437.20,2060.70C434.81,2074.92 431.61,2088.56 430.10,2101.10C428.80,2111.89 428.05,2120.58 428.10,2131.40C428.15,2143.88 428.81,2159.34 431.10,2171.70C433.12,2182.64 435.78,2193.26 440.20,2202.00C444.16,2209.82 448.68,2216.45 455.40,2222.20C463.22,2228.89 474.88,2233.77 485.60,2238.30C496.85,2243.05 509.57,2247.54 521.50,2249.80C532.80,2251.94 542.21,2251.69 555.30,2252.00C573.39,2252.43 598.87,2252.20 620.00,2250.90C640.41,2249.64 660.15,2247.05 680.00,2244.50C699.68,2241.97 717.07,2238.57 738.60,2235.70C764.91,2232.20 802.25,2228.92 826.50,2225.50C843.71,2223.07 855.99,2220.18 870.50,2218.20C884.58,2216.28 898.43,2215.64 912.30,2213.70"/>
<path d="M398.20,1863.80C406.73,1867.25 416.23,1869.63 423.80,1874.14C430.92,1878.39 437.29,1883.74 442.61,1889.73C447.87,1895.65 452.10,1902.60 455.58,1909.83C459.16,1917.24 461.64,1925.42 463.67,1933.72C465.78,1942.35 466.94,1951.48 467.83,1960.68C468.75,1970.23 468.72,1977.55 469.00,1990.00C469.50,2011.80 470.43,2054.19 469.50,2080.00C468.80,2099.53 467.17,2113.72 465.50,2131.40C463.72,2150.31 459.46,2171.73 459.00,2190.00C458.59,2206.00 458.94,2222.15 461.70,2235.10C463.91,2245.47 467.86,2252.93 471.90,2262.20C476.35,2272.42 482.13,2284.85 487.60,2293.70C491.98,2300.80 496.10,2307.55 501.20,2311.80C505.40,2315.30 510.12,2317.22 514.96,2318.68"/>
<path d="M398.20,1863.80C403.93,1868.18 410.50,1871.66 415.38,1876.93C420.38,1882.33 424.33,1889.10 427.73,1895.93C431.25,1903.00 433.80,1910.92 435.99,1918.76C438.23,1926.74 439.72,1935.17 440.95,1943.40C442.17,1951.53 442.86,1959.87 443.37,1967.82C443.85,1975.38 443.79,1978.55 444.00,1990.00C444.71,2029.18 444.64,2184.11 446.00,2250.00C446.84,2290.42 446.75,2322.32 449.30,2347.80C450.96,2364.33 452.65,2377.76 456.10,2388.40C458.52,2395.85 461.04,2400.83 465.10,2406.50C469.57,2412.73 475.46,2420.23 482.35,2423.87"/>
<path d="M398.20,1863.80C402.51,1868.36 407.57,1872.10 411.14,1877.47C415.03,1883.34 417.72,1890.73 420.15,1897.99C422.73,1905.67 424.44,1914.15 425.95,1922.42C427.47,1930.77 428.43,1939.53 429.22,1947.85C429.98,1955.82 430.38,1963.97 430.67,1971.35C430.93,1977.92 430.52,1982.02 431.00,1990.00C431.86,2004.43 435.56,2028.93 437.20,2050.60C439.09,2075.58 440.60,2105.56 441.20,2131.40C441.75,2155.19 442.32,2177.93 441.00,2200.00C439.77,2220.71 436.14,2241.70 434.00,2260.00C432.20,2275.44 430.41,2285.80 429.00,2302.70C426.96,2327.20 424.72,2365.07 424.50,2393.00C424.31,2417.16 423.17,2440.30 426.80,2460.60C429.92,2478.05 435.57,2496.23 442.50,2508.00C447.52,2516.51 453.01,2523.06 460.22,2527.21"/>
<path d="M398.20,1863.80C404.15,1868.13 410.96,1871.56 416.05,1876.80C421.22,1882.11 425.36,1888.78 428.91,1895.54C432.57,1902.52 435.25,1910.36 437.55,1918.14C439.89,1926.06 441.47,1934.46 442.76,1942.68C444.05,1950.84 444.78,1959.22 445.32,1967.27C445.84,1974.98 445.86,1978.07 446.00,1990.00C446.52,2034.04 443.71,2215.22 444.00,2300.00C444.20,2358.98 444.76,2409.77 446.00,2450.00C446.84,2477.10 446.45,2497.23 449.30,2518.00C451.76,2535.95 454.90,2553.61 460.60,2567.60C465.29,2579.12 471.97,2588.13 478.60,2597.00C484.81,2605.32 491.45,2613.38 498.90,2619.50C505.84,2625.20 513.51,2629.95 521.50,2633.00C529.33,2635.99 537.96,2637.00 546.30,2637.80"/>
<path d="M398.20,1863.80C405.27,1867.83 413.25,1870.89 419.41,1875.89C425.43,1880.77 430.54,1886.90 434.85,1893.33C439.22,1899.85 442.56,1907.28 445.38,1914.79C448.26,1922.47 450.23,1930.72 451.85,1938.94C453.49,1947.27 454.41,1955.93 455.10,1964.45C455.79,1972.95 455.73,1976.76 456.00,1990.00C456.96,2036.09 456.88,2215.22 458.00,2300.00C458.78,2358.98 460.91,2398.98 461.00,2450.00C461.09,2503.13 456.29,2572.05 458.30,2612.70C459.51,2637.20 460.48,2655.90 465.10,2671.40C468.40,2682.48 473.54,2689.33 478.60,2698.40C484.00,2708.09 489.68,2720.47 496.70,2727.70C502.44,2733.61 508.89,2737.86 515.91,2740.35"/>
<path d="M398.20,1863.80C404.48,1868.05 411.64,1871.38 417.05,1876.56C422.47,1881.76 426.91,1888.26 430.69,1894.93C434.56,1901.77 437.44,1909.48 439.90,1917.18C442.40,1925.02 444.09,1933.37 445.49,1941.58C446.88,1949.79 447.67,1958.25 448.25,1966.43C448.82,1974.38 448.79,1977.68 449.00,1990.00C449.78,2034.67 449.39,2207.94 450.00,2300.00C450.49,2373.94 450.47,2429.02 452.00,2500.00C453.74,2580.84 451.89,2710.64 460.60,2759.30C464.14,2779.06 469.37,2788.11 474.10,2799.90C477.91,2809.40 480.36,2817.65 486.00,2825.00C491.92,2832.72 500.38,2840.80 509.31,2844.81"/>
<path d="M398.20,1863.80C403.60,1868.24 409.82,1871.80 414.39,1877.11C419.13,1882.62 422.79,1889.54 425.96,1896.47C429.27,1903.69 431.62,1911.73 433.66,1919.66C435.73,1927.72 437.10,1936.22 438.24,1944.46C439.35,1952.55 439.98,1960.83 440.43,1968.65C440.86,1975.98 440.85,1978.72 441.00,1990.00C441.57,2032.96 441.23,2207.94 441.00,2300.00C440.82,2373.94 439.67,2433.33 440.00,2500.00C440.33,2566.67 441.59,2641.81 443.00,2700.00C444.09,2745.09 443.78,2792.35 447.00,2820.00C448.73,2834.81 450.82,2842.63 453.80,2853.80C456.83,2865.16 459.19,2878.03 465.10,2887.60C470.69,2896.65 478.53,2904.78 487.60,2910.20C497.16,2915.91 510.09,2918.24 521.50,2920.30C532.66,2922.32 543.24,2922.28 555.30,2922.60C569.15,2922.96 583.34,2922.86 600.00,2921.90C621.22,2920.68 648.17,2917.58 672.20,2914.70C696.27,2911.82 720.25,2907.78 744.30,2904.60C768.35,2901.42 796.67,2899.30 816.50,2895.60C830.66,2892.96 841.72,2889.01 852.50,2886.60C861.20,2884.65 868.30,2883.45 876.20,2881.90"/>
<path d="M398.20,1863.80C404.82,1867.97 412.33,1871.19 418.06,1876.30C423.74,1881.36 428.46,1887.70 432.47,1894.27C436.56,1900.97 439.63,1908.57 442.25,1916.18C444.91,1923.95 446.72,1932.25 448.21,1940.47C449.71,1948.72 450.56,1957.26 451.19,1965.59C451.81,1973.77 451.77,1977.29 452.00,1990.00C452.82,2035.28 452.32,2197.51 453.00,2300.00C453.67,2400.82 455.52,2507.74 456.00,2600.00C456.41,2679.01 453.50,2767.74 456.10,2820.00C457.54,2849.04 460.19,2867.96 462.80,2887.60C464.84,2902.89 465.94,2915.71 469.60,2928.20C472.94,2939.61 477.30,2950.16 483.10,2959.80C488.81,2969.28 495.05,2980.41 504.00,2985.63"/>
<path d="M398.20,1863.80C404.26,1868.11 411.18,1871.50 416.38,1876.72C421.64,1882.00 425.87,1888.61 429.50,1895.34C433.23,1902.28 435.98,1910.07 438.33,1917.82C440.73,1925.72 442.34,1934.10 443.67,1942.32C444.99,1950.49 445.75,1958.90 446.30,1966.99C446.83,1974.78 446.82,1977.94 447.00,1990.00C447.67,2034.25 446.66,2197.51 447.00,2300.00C447.34,2400.82 448.25,2510.10 449.00,2600.00C449.61,2673.40 450.17,2735.29 451.00,2800.00C451.79,2861.01 449.24,2935.24 453.80,2977.80C456.39,3002.00 458.53,3018.33 465.10,3034.20C470.62,3047.53 478.16,3058.78 487.60,3068.00C496.98,3077.16 510.07,3084.91 521.50,3089.40C531.54,3093.34 541.68,3094.15 551.90,3095.10"/>
<path d="M398.20,1863.80C405.72,1867.67 414.17,1870.55 420.76,1875.42C427.12,1880.12 432.62,1886.01 437.24,1892.31C441.88,1898.64 445.50,1905.92 448.52,1913.34C451.62,1920.93 453.74,1929.15 455.49,1937.38C457.27,1945.79 458.27,1954.58 459.02,1963.31C459.78,1972.12 459.68,1976.24 460.00,1990.00C461.09,2036.88 462.67,2197.51 463.00,2300.00C463.32,2400.82 462.83,2500.00 462.00,2600.00C461.17,2700.00 458.26,2810.10 458.00,2900.00C457.79,2973.40 455.22,3059.54 459.50,3100.00C461.39,3117.89 463.45,3126.86 467.40,3138.30C470.88,3148.36 475.87,3156.96 480.90,3165.40C485.69,3173.44 491.03,3182.43 496.70,3187.90C501.12,3192.16 505.60,3195.12 510.68,3197.00"/>
<path d="M398.20,1863.80C406.28,1867.45 415.31,1870.06 422.45,1874.75C429.23,1879.20 435.22,1884.80 440.22,1890.92C445.21,1897.03 449.17,1904.13 452.45,1911.43C455.81,1918.92 458.13,1927.11 460.03,1935.37C462.00,1943.90 463.08,1952.87 463.91,1961.86C464.76,1971.07 464.65,1975.58 465.00,1990.00C466.16,2037.85 467.85,2197.51 468.00,2300.00C468.15,2400.82 467.17,2500.00 466.00,2600.00C464.83,2700.00 461.97,2810.10 461.00,2900.00C460.20,2973.40 459.30,3046.44 460.00,3100.00C460.47,3135.98 461.05,3163.67 462.80,3190.20C464.19,3211.22 464.82,3231.81 468.50,3246.60C471.03,3256.76 474.32,3263.56 478.60,3271.40C482.93,3279.34 488.77,3288.57 494.40,3293.90C498.68,3297.95 503.01,3300.56 507.88,3302.30"/>
</g>
<g stroke="#000">
<path d="M900.40,52.45L913.70,46.45L907.05,52.45L913.70,52.45L907.05,52.45L913.70,58.45Z" fill="#000" stroke-width="1" stroke-linejoin="miter"/>
<circle cx="896.30" cy="52.45" r="4.1" fill="#fff" stroke-width="1.4"/>
<line x1="939.80" y1="163.70" x2="939.80" y2="151.70" stroke-width="3.0"/>
<line x1="936.30" y1="157.70" x2="943.20" y2="157.70" stroke-width="1.2"/>
<circle cx="932.20" cy="157.70" r="4.1" fill="#fff" stroke-width="1.4"/>
<line x1="958.30" y1="269.00" x2="958.30" y2="257.00" stroke-width="3.0"/>
<line x1="954.80" y1="263.00" x2="961.70" y2="263.00" stroke-width="1.2"/>
<circle cx="950.70" cy="263.00" r="4.1" fill="#fff" stroke-width="1.4"/>
<path d="M887.00,368.30L900.30,362.30L893.65,368.30L900.30,368.30L893.65,368.30L900.30,374.30Z" fill="#000" stroke-width="1" stroke-linejoin="miter"/>
<circle cx="882.90" cy="368.30" r="4.1" fill="#fff" stroke-width="1.4"/>
<path d="M876.60,473.60L889.90,467.60L883.25,473.60L889.90,473.60L883.25,473.60L889.90,479.60Z" fill="#000" stroke-width="1" stroke-linejoin="miter"/>
<circle cx="872.50" cy="473.60" r="4.1" fill="#fff" stroke-width="1.4"/>
<line x1="939.80" y1="584.90" x2="939.80" y2="572.90" stroke-width="3.0"/>
<line x1="936.30" y1="578.90" x2="943.20" y2="578.90" stroke-width="1.2"/>
<circle cx="932.20" cy="578.90" r="4.1" fill="#fff" stroke-width="1.4"/>
<line x1="942.30" y1="690.20" x2="942.30" y2="678.20" stroke-width="3.0"/>
<line x1="938.80" y1="684.20" x2="945.70" y2="684.20" stroke-width="1.2"/>
<circle cx="934.70" cy="684.20" r="4.1" fill="#fff" stroke-width="1.4"/>
<path d="M849.60,1082.67L863.88,1085.65L854.98,1086.58L860.35,1090.50L854.98,1086.58L856.82,1095.35Z" fill="#000" stroke-width="1" stroke-linejoin="miter"/>
<circle cx="846.29" cy="1080.25" r="4.1" fill="#fff" stroke-width="1.4"/>
<path d="M885.71,1789.10L899.18,1783.50L892.35,1789.30L899.00,1789.50L892.35,1789.30L898.82,1795.50Z" fill="#000" stroke-width="1" stroke-linejoin="miter"/>
<circle cx="881.61" cy="1788.98" r="4.1" fill="#fff" stroke-width="1.4"/>
<path d="M532.17,374.42L544.80,367.13L538.78,373.76L545.40,373.10L538.78,373.76L546.00,379.07Z" fill="#000" stroke-width="1" stroke-linejoin="miter"/>
<circle cx="528.09" cy="374.83" r="4.1" fill="#fff" stroke-width="1.4"/>
<path d="M900.40,52.45L913.70,46.45L907.05,52.45L913.70,52.45L907.05,52.45L913.70,58.45Z" fill="#000" stroke-width="1" stroke-linejoin="miter"/>
<circle cx="896.30" cy="52.45" r="4.1" fill="#fff" stroke-width="1.4"/>
<path d="M532.10,343.80L545.40,337.80L538.75,343.80L545.40,343.80L538.75,343.80L545.40,349.80Z" fill="#000" stroke-width="1" stroke-linejoin="miter"/>
<circle cx="528.00" cy="343.80" r="4.1" fill="#fff" stroke-width="1.4"/>
<path d="M183.74,420.43L195.66,412.01L190.27,419.17L196.80,417.90L190.27,419.17L197.94,423.79Z" fill="#000" stroke-width="1" stroke-linejoin="miter"/>
<circle cx="179.72" cy="421.21" r="4.1" fill="#fff" stroke-width="1.4"/>
<path d="M553.20,564.40L566.50,558.40L559.85,564.40L566.50,564.40L559.85,564.40L566.50,570.40Z" fill="#000" stroke-width="1" stroke-linejoin="miter"/>
<circle cx="549.10" cy="564.40" r="4.1" fill="#fff" stroke-width="1.4"/>
<path d="M563.82,666.64L577.40,661.31L570.46,666.97L577.10,667.30L570.46,666.97L576.80,673.29Z" fill="#000" stroke-width="1" stroke-linejoin="miter"/>
<circle cx="559.72" cy="666.43" r="4.1" fill="#fff" stroke-width="1.4"/>
<path d="M202.94,1917.66L217.49,1916.68L209.17,1919.98L215.40,1922.30L209.17,1919.98L213.31,1927.92Z" fill="#000" stroke-width="1" stroke-linejoin="miter"/>
<circle cx="199.09" cy="1916.23" r="4.1" fill="#fff" stroke-width="1.4"/>
<path d="M202.10,1893.10L215.40,1887.10L208.75,1893.10L215.40,1893.10L208.75,1893.10L215.40,1899.10Z" fill="#000" stroke-width="1" stroke-linejoin="miter"/>
<circle cx="198.00" cy="1893.10" r="4.1" fill="#fff" stroke-width="1.4"/>
<path d="M885.70,1789.50L899.00,1783.50L892.35,1789.50L899.00,1789.50L892.35,1789.50L899.00,1795.50Z" fill="#000" stroke-width="1" stroke-linejoin="miter"/>
<circle cx="881.60" cy="1789.50" r="4.1" fill="#fff" stroke-width="1.4"/>
<path d="M920.50,2213.70L933.80,2207.70L927.15,2213.70L933.80,2213.70L927.15,2213.70L933.80,2219.70Z" fill="#000" stroke-width="1" stroke-linejoin="miter"/>
<circle cx="916.40" cy="2213.70" r="4.1" fill="#fff" stroke-width="1.4"/>
<path d="M884.40,2881.90L897.70,2875.90L891.05,2881.90L897.70,2881.90L891.05,2881.90L897.70,2887.90Z" fill="#000" stroke-width="1" stroke-linejoin="miter"/>
<circle cx="880.30" cy="2881.90" r="4.1" fill="#fff" stroke-width="1.4"/>
<path d="M553.20,564.40L566.50,558.40L559.85,564.40L566.50,564.40L559.85,564.40L566.50,570.40Z" fill="#000" stroke-width="1" stroke-linejoin="miter"/>
<circle cx="549.10" cy="564.40" r="4.1" fill="#fff" stroke-width="1.4"/>
<path d="M563.80,667.50L577.10,661.50L570.45,667.50L577.10,667.50L570.45,667.50L577.10,673.50Z" fill="#000" stroke-width="1" stroke-linejoin="miter"/>
<circle cx="559.70" cy="667.50" r="4.1" fill="#fff" stroke-width="1.4"/>
<path d="M563.80,671.50L577.10,665.50L570.45,671.50L577.10,671.50L570.45,671.50L577.10,677.50Z" fill="#000" stroke-width="1" stroke-linejoin="miter"/>
<circle cx="559.70" cy="671.50" r="4.1" fill="#fff" stroke-width="1.4"/>
<path d="M517.30,775.00L530.60,769.00L523.95,775.00L530.60,775.00L523.95,775.00L530.60,781.00Z" fill="#000" stroke-width="1" stroke-linejoin="miter"/>
<circle cx="513.20" cy="775.00" r="4.1" fill="#fff" stroke-width="1.4"/>
<path d="M530.50,880.30L543.80,874.30L537.15,880.30L543.80,880.30L537.15,880.30L543.80,886.30Z" fill="#000" stroke-width="1" stroke-linejoin="miter"/>
<circle cx="526.40" cy="880.30" r="4.1" fill="#fff" stroke-width="1.4"/>
<path d="M556.00,985.60L569.30,979.60L562.65,985.60L569.30,985.60L562.65,985.60L569.30,991.60Z" fill="#000" stroke-width="1" stroke-linejoin="miter"/>
<circle cx="551.90" cy="985.60" r="4.1" fill="#fff" stroke-width="1.4"/>
<path d="M580.10,1090.90L593.40,1084.90L586.75,1090.90L593.40,1090.90L586.75,1090.90L593.40,1096.90Z" fill="#000" stroke-width="1" stroke-linejoin="miter"/>
<circle cx="576.00" cy="1090.90" r="4.1" fill="#fff" stroke-width="1.4"/>
<path d="M523.70,1196.20L537.00,1190.20L530.35,1196.20L537.00,1196.20L530.35,1196.20L537.00,1202.20Z" fill="#000" stroke-width="1" stroke-linejoin="miter"/>
<circle cx="519.60" cy="1196.20" r="4.1" fill="#fff" stroke-width="1.4"/>
<path d="M553.20,1301.50L566.50,1295.50L559.85,1301.50L566.50,1301.50L559.85,1301.50L566.50,1307.50Z" fill="#000" stroke-width="1" stroke-linejoin="miter"/>
<circle cx="549.10" cy="1301.50" r="4.1" fill="#fff" stroke-width="1.4"/>
<line x1="584.20" y1="1412.80" x2="584.20" y2="1400.80" stroke-width="3.0"/>
<line x1="580.70" y1="1406.80" x2="587.60" y2="1406.80" stroke-width="1.2"/>
<circle cx="576.60" cy="1406.80" r="4.1" fill="#fff" stroke-width="1.4"/>
<path d="M518.30,1512.10L531.60,1506.10L524.95,1512.10L531.60,1512.10L524.95,1512.10L531.60,1518.10Z" fill="#000" stroke-width="1" stroke-linejoin="miter"/>
<circle cx="514.20" cy="1512.10" r="4.1" fill="#fff" stroke-width="1.4"/>
<path d="M554.40,1617.40L567.70,1611.40L561.05,1617.40L567.70,1617.40L561.05,1617.40L567.70,1623.40Z" fill="#000" stroke-width="1" stroke-linejoin="miter"/>
<circle cx="550.30" cy="1617.40" r="4.1" fill="#fff" stroke-width="1.4"/>
<path d="M561.60,1722.70L574.90,1716.70L568.25,1722.70L574.90,1722.70L568.25,1722.70L574.90,1728.70Z" fill="#000" stroke-width="1" stroke-linejoin="miter"/>
<circle cx="557.50" cy="1722.70" r="4.1" fill="#fff" stroke-width="1.4"/>
<path d="M849.54,1066.18L856.94,1053.60L854.97,1062.34L860.40,1058.50L854.97,1062.34L863.86,1063.40Z" fill="#000" stroke-width="1" stroke-linejoin="miter"/>
<circle cx="846.19" cy="1068.54" r="4.1" fill="#fff" stroke-width="1.4"/>
<path d="M539.80,1864.40L553.10,1858.40L546.45,1864.40L553.10,1864.40L546.45,1864.40L553.10,1870.40Z" fill="#000" stroke-width="1" stroke-linejoin="miter"/>
<circle cx="535.70" cy="1864.40" r="4.1" fill="#fff" stroke-width="1.4"/>
<path d="M563.80,1969.70L577.10,1963.70L570.45,1969.70L577.10,1969.70L570.45,1969.70L577.10,1975.70Z" fill="#000" stroke-width="1" stroke-linejoin="miter"/>
<circle cx="559.70" cy="1969.70" r="4.1" fill="#fff" stroke-width="1.4"/>
<line x1="579.00" y1="2081.00" x2="579.00" y2="2069.00" stroke-width="3.0"/>
<line x1="575.50" y1="2075.00" x2="582.40" y2="2075.00" stroke-width="1.2"/>
<circle cx="571.40" cy="2075.00" r="4.1" fill="#fff" stroke-width="1.4"/>
<path d="M572.00,2180.30L585.30,2174.30L578.65,2180.30L585.30,2180.30L578.65,2180.30L585.30,2186.30Z" fill="#000" stroke-width="1" stroke-linejoin="miter"/>
<circle cx="567.90" cy="2180.30" r="4.1" fill="#fff" stroke-width="1.4"/>
<path d="M920.50,2213.70L933.80,2207.70L927.15,2213.70L933.80,2213.70L927.15,2213.70L933.80,2219.70Z" fill="#000" stroke-width="1" stroke-linejoin="miter"/>
<circle cx="916.40" cy="2213.70" r="4.1" fill="#fff" stroke-width="1.4"/>
<path d="M523.10,2319.68L537.03,2315.34L529.70,2320.49L536.30,2321.30L529.70,2320.49L535.57,2327.26Z" fill="#000" stroke-width="1" stroke-linejoin="miter"/>
<circle cx="519.03" cy="2319.18" r="4.1" fill="#fff" stroke-width="1.4"/>
<line x1="492.77" y1="2431.89" x2="494.94" y2="2420.08" stroke-width="3.0"/>
<line x1="490.41" y1="2425.35" x2="497.20" y2="2426.60" stroke-width="1.2"/>
<circle cx="486.38" cy="2424.61" r="4.1" fill="#fff" stroke-width="1.4"/>
<path d="M468.22,2529.00L482.51,2526.04L474.71,2530.45L481.20,2531.90L474.71,2530.45L479.89,2537.76Z" fill="#000" stroke-width="1" stroke-linejoin="miter"/>
<circle cx="464.22" cy="2528.11" r="4.1" fill="#fff" stroke-width="1.4"/>
<path d="M554.50,2637.80L567.80,2631.80L561.15,2637.80L567.80,2637.80L561.15,2637.80L567.80,2643.80Z" fill="#000" stroke-width="1" stroke-linejoin="miter"/>
<circle cx="550.40" cy="2637.80" r="4.1" fill="#fff" stroke-width="1.4"/>
<path d="M524.07,2741.17L537.90,2736.53L530.68,2741.84L537.30,2742.50L530.68,2741.84L536.70,2748.47Z" fill="#000" stroke-width="1" stroke-linejoin="miter"/>
<circle cx="519.99" cy="2740.76" r="4.1" fill="#fff" stroke-width="1.4"/>
<path d="M517.43,2845.95L531.43,2841.86L524.01,2846.88L530.60,2847.80L524.01,2846.88L529.77,2853.74Z" fill="#000" stroke-width="1" stroke-linejoin="miter"/>
<circle cx="513.37" cy="2845.38" r="4.1" fill="#fff" stroke-width="1.4"/>
<path d="M884.40,2881.90L897.70,2875.90L891.05,2881.90L897.70,2881.90L891.05,2881.90L897.70,2887.90Z" fill="#000" stroke-width="1" stroke-linejoin="miter"/>
<circle cx="880.30" cy="2881.90" r="4.1" fill="#fff" stroke-width="1.4"/>
<path d="M512.08,2986.99L526.20,2983.28L518.64,2988.10L525.20,2989.20L518.64,2988.10L524.20,2995.12Z" fill="#000" stroke-width="1" stroke-linejoin="miter"/>
<circle cx="508.04" cy="2986.31" r="4.1" fill="#fff" stroke-width="1.4"/>
<path d="M560.10,3095.10L573.40,3089.10L566.75,3095.10L573.40,3095.10L566.75,3095.10L573.40,3101.10Z" fill="#000" stroke-width="1" stroke-linejoin="miter"/>
<circle cx="556.00" cy="3095.10" r="4.1" fill="#fff" stroke-width="1.4"/>
<path d="M518.81,3198.07L532.78,3193.85L525.41,3198.93L532.00,3199.80L525.41,3198.93L531.22,3205.75Z" fill="#000" stroke-width="1" stroke-linejoin="miter"/>
<circle cx="514.75" cy="3197.53" r="4.1" fill="#fff" stroke-width="1.4"/>
<path d="M516.01,3303.37L529.98,3299.15L522.61,3304.23L529.20,3305.10L522.61,3304.23L528.42,3311.05Z" fill="#000" stroke-width="1" stroke-linejoin="miter"/>
<circle cx="511.95" cy="3302.83" r="4.1" fill="#fff" stroke-width="1.4"/>
</g>
</svg>
</body></html>
